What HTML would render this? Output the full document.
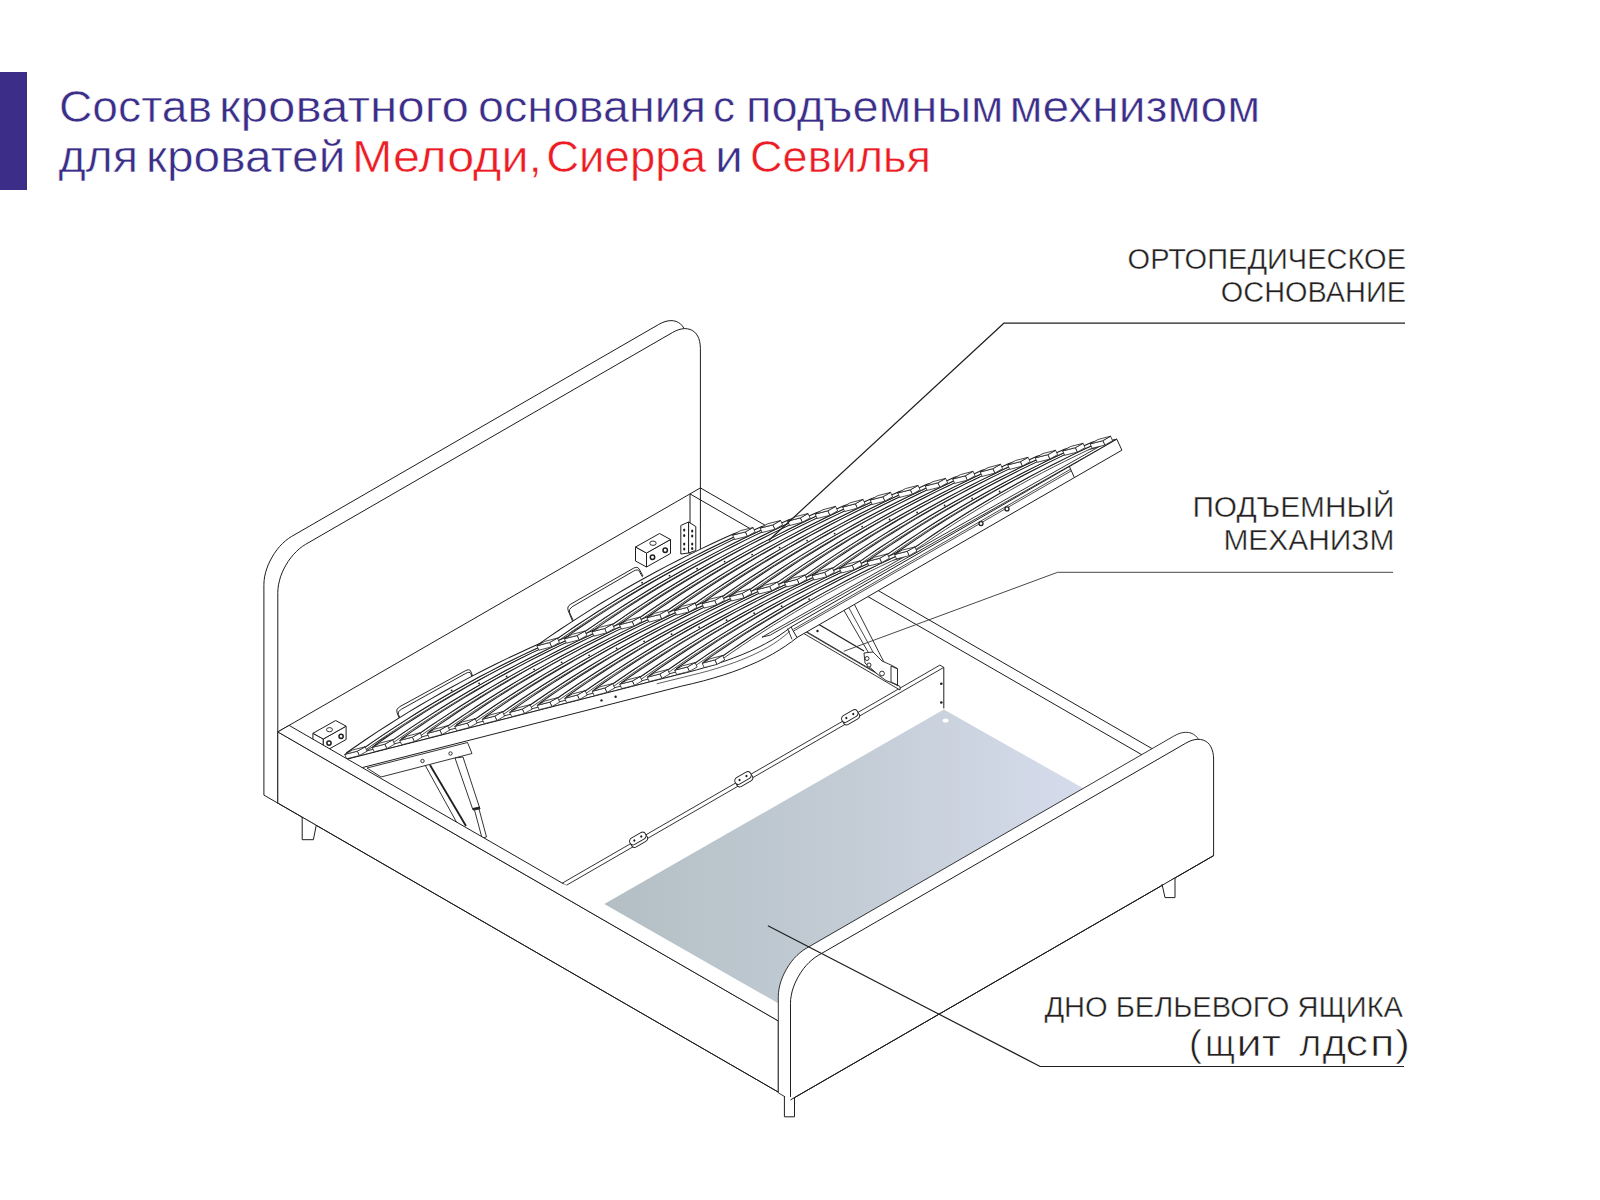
<!DOCTYPE html>
<html><head><meta charset="utf-8">
<style>
html,body{margin:0;padding:0;background:#fff;}
body{width:1600px;height:1200px;position:relative;overflow:hidden;font-family:"Liberation Sans",sans-serif;}
#bar{position:absolute;left:0;top:72px;width:27px;height:118px;background:#3c2d89;}
svg{position:absolute;left:0;top:0;}
</style></head><body>
<div id="bar"></div>
<svg width="1600" height="1200" viewBox="0 0 1600 1200">
<polygon points="263.9,795.1 263.9,584.4 264.1,580.7 264.6,576.9 265.5,572.9 266.7,568.9 268.2,564.9 270.0,561.0 272.1,557.1 274.4,553.4 276.9,549.8 279.6,546.5 282.5,543.5 285.5,540.8 288.6,538.4 291.7,536.4 658.8,324.4 661.9,322.8 665.0,321.6 668.0,320.9 670.9,320.6 673.6,320.8 676.1,321.4 678.4,322.5 680.5,323.9 682.3,325.8 683.8,328.1 685.0,330.7 685.9,333.7 686.4,336.9 686.6,340.4 686.6,551.1 700.4,559.1 277.8,803.1" fill="#fff" stroke="#1e1e1e" stroke-width="1.0" stroke-linejoin="round" />
<polygon points="277.8,803.1 277.8,592.4 278.0,588.7 278.5,584.9 279.4,580.9 280.5,576.9 282.0,572.9 283.8,569.0 285.9,565.1 288.2,561.4 290.8,557.8 293.5,554.5 296.4,551.5 299.3,548.8 302.4,546.4 305.5,544.4 672.7,332.4 675.8,330.8 678.9,329.6 681.8,328.9 684.7,328.6 687.4,328.8 690.0,329.4 692.3,330.5 694.4,331.9 696.2,333.8 697.7,336.1 698.9,338.7 699.7,341.7 700.2,344.9 700.4,348.4 700.4,559.1" fill="#fff" stroke="#1e1e1e" stroke-width="1.0" stroke-linejoin="round" />
<line x1="277.8" y1="731.9" x2="700.4" y2="487.9" stroke="#1e1e1e" stroke-width="1.0" />
<line x1="700.4" y1="487.9" x2="1201.0" y2="776.9" stroke="#1e1e1e" stroke-width="1.0" />
<line x1="690.0" y1="493.9" x2="1190.6" y2="782.9" stroke="#1e1e1e" stroke-width="1.0" />
<line x1="690.0" y1="493.9" x2="690.0" y2="553.9" stroke="#1e1e1e" stroke-width="1.0" />
<polygon points="680.8,525.5 688.6,522.0 688.6,553.0 680.8,554.0" fill="#fff" stroke="#1e1e1e" stroke-width="1.0" stroke-linejoin="round" />
<polygon points="688.6,522.0 695.8,526.5 695.8,550.5 688.6,553.0" fill="#fff" stroke="#1e1e1e" stroke-width="1.0" stroke-linejoin="round" />
<ellipse cx="684.2" cy="530" rx="1.1" ry="1.6" fill="#1e1e1e"/>
<ellipse cx="684.2" cy="535.5" rx="1.1" ry="1.6" fill="#1e1e1e"/>
<ellipse cx="684.2" cy="544" rx="1.1" ry="1.6" fill="#1e1e1e"/>
<ellipse cx="684.2" cy="549" rx="1.1" ry="1.6" fill="#1e1e1e"/>
<ellipse cx="692.2" cy="531" rx="1.1" ry="1.6" fill="#1e1e1e"/>
<ellipse cx="692.2" cy="536" rx="1.1" ry="1.6" fill="#1e1e1e"/>
<ellipse cx="692.2" cy="544" rx="1.1" ry="1.6" fill="#1e1e1e"/>
<ellipse cx="692.2" cy="548.5" rx="1.1" ry="1.6" fill="#1e1e1e"/>
<polygon points="635.5,547.0 646.5,553.0 646.5,567.0 635.5,561.0" fill="#fff" stroke="#1e1e1e" stroke-width="1.0" stroke-linejoin="round" />
<polygon points="646.5,553.0 670.5,539.5 670.5,553.5 646.5,567.0" fill="#fff" stroke="#1e1e1e" stroke-width="1.0" stroke-linejoin="round" />
<polygon points="635.5,547.0 659.5,533.5 670.5,539.5 646.5,553.0" fill="#fff" stroke="#1e1e1e" stroke-width="1.0" stroke-linejoin="round" />
<ellipse cx="653.0" cy="543.2" rx="3.2" ry="2.2" fill="#fff" stroke="#1e1e1e" stroke-width="0.9"/>
<circle cx="652.5" cy="557.3" r="2.2" fill="#fff" stroke="#1e1e1e" stroke-width="1.5"/>
<circle cx="665.2" cy="550.2" r="2.2" fill="#fff" stroke="#1e1e1e" stroke-width="1.5"/>
<polygon points="312.9,733.3 323.3,739.0 323.3,752.3 312.9,746.6" fill="#fff" stroke="#1e1e1e" stroke-width="1.0" stroke-linejoin="round" />
<polygon points="323.3,739.0 346.1,726.2 346.1,739.5 323.3,752.3" fill="#fff" stroke="#1e1e1e" stroke-width="1.0" stroke-linejoin="round" />
<polygon points="312.9,733.3 335.7,720.5 346.1,726.2 323.3,739.0" fill="#fff" stroke="#1e1e1e" stroke-width="1.0" stroke-linejoin="round" />
<ellipse cx="329.5" cy="729.7" rx="3.0" ry="2.1" fill="#fff" stroke="#1e1e1e" stroke-width="0.9"/>
<circle cx="329.0" cy="743.1" r="2.1" fill="#fff" stroke="#1e1e1e" stroke-width="1.5"/>
<circle cx="341.1" cy="736.3" r="2.1" fill="#fff" stroke="#1e1e1e" stroke-width="1.5"/>
<path d="M400.0,720.0 L396.9,712.3 Q395.5,709.0 399.9,706.6 L465.1,670.9 Q469.5,668.5 470.6,671.0 L473.0,677.0" fill="none" stroke="#1e1e1e" stroke-width="0.95"/>
<path d="M401.4,720.8 L398.3,714.4 Q396.9,711.7 401.3,709.3 L465.4,673.6 Q469.8,671.2 470.6,673.3 L472.6,678.1" fill="none" stroke="#1e1e1e" stroke-width="0.95"/>
<path d="M572.5,621.0 L568.3,610.9 Q566.5,606.5 570.8,604.1 L633.2,568.4 Q637.5,566.0 639.1,569.0 L643.0,576.0" fill="none" stroke="#1e1e1e" stroke-width="0.95"/>
<path d="M573.9,621.8 L569.7,613.0 Q567.9,609.2 572.1,606.8 L633.6,571.1 Q637.8,568.7 639.2,571.2 L642.6,577.1" fill="none" stroke="#1e1e1e" stroke-width="0.95"/>
<defs><linearGradient id="bg" x1="600" y1="0" x2="1090" y2="0" gradientUnits="userSpaceOnUse"><stop offset="0" stop-color="#b2bec4"/><stop offset="0.5" stop-color="#c3ccd5"/><stop offset="1" stop-color="#d6dcec"/></linearGradient></defs>
<polygon points="943.8,709.6 1090.0,792.0 900.0,900.0 790.0,1010.0 604.3,904.0" fill="url(#bg)" stroke="none" stroke-linejoin="round" />
<ellipse cx="945.6" cy="720.6" rx="3" ry="2" fill="#fff"/>
<polygon points="566.2,885.4 943.8,667.4 939.9,665.1 562.3,883.1" fill="#fff" stroke="#1e1e1e" stroke-width="0.9" stroke-linejoin="round" />
<line x1="943.8" y1="667.4" x2="943.8" y2="708.4" stroke="#1e1e1e" stroke-width="1.0" />
<circle cx="941.3" cy="683.8" r="1.3" fill="#1e1e1e"/>
<circle cx="941.3" cy="702.5" r="1.3" fill="#1e1e1e"/>
<g transform="translate(637.8,838.5) rotate(-30)"><rect x="-9" y="-0.5" width="18" height="7" rx="3.5" fill="#fff" stroke="#1e1e1e" stroke-width="0.9"/><rect x="-9" y="-3.5" width="18" height="7" rx="3.5" fill="#fff" stroke="#1e1e1e" stroke-width="0.9"/><circle cx="-4" cy="0" r="1.1" fill="#1e1e1e"/><circle cx="4" cy="0" r="1.1" fill="#1e1e1e"/></g>
<g transform="translate(743.0,778.0) rotate(-30)"><rect x="-9" y="-0.5" width="18" height="7" rx="3.5" fill="#fff" stroke="#1e1e1e" stroke-width="0.9"/><rect x="-9" y="-3.5" width="18" height="7" rx="3.5" fill="#fff" stroke="#1e1e1e" stroke-width="0.9"/><circle cx="-4" cy="0" r="1.1" fill="#1e1e1e"/><circle cx="4" cy="0" r="1.1" fill="#1e1e1e"/></g>
<g transform="translate(849.8,716.0) rotate(-30)"><rect x="-9" y="-0.5" width="18" height="7" rx="3.5" fill="#fff" stroke="#1e1e1e" stroke-width="0.9"/><rect x="-9" y="-3.5" width="18" height="7" rx="3.5" fill="#fff" stroke="#1e1e1e" stroke-width="0.9"/><circle cx="-4" cy="0" r="1.1" fill="#1e1e1e"/><circle cx="4" cy="0" r="1.1" fill="#1e1e1e"/></g>
<polygon points="782.5,617.5 900.0,686.5 900.0,690.0 782.5,621.0" fill="#fff" stroke="#1e1e1e" stroke-width="0.9" stroke-linejoin="round" />
<line x1="806.0" y1="632.0" x2="898.0" y2="686.0" stroke="#1e1e1e" stroke-width="0.8" />
<polygon points="831.0,588.0 846.0,588.0 889.0,672.0 882.0,676.0" fill="#fff" stroke="#1e1e1e" stroke-width="0.9" stroke-linejoin="round" />
<line x1="838.0" y1="588.0" x2="885.0" y2="674.0" stroke="#1e1e1e" stroke-width="0.8" />
<line x1="796.0" y1="611.0" x2="864.0" y2="651.0" stroke="#1e1e1e" stroke-width="1.3" />
<polygon points="864.0,653.0 873.0,652.0 882.0,661.0 891.0,665.0 897.5,668.5 897.5,685.0 886.0,680.5 879.0,675.5 865.0,663.0" fill="#fff" stroke="#1e1e1e" stroke-width="0.9" stroke-linejoin="round" />
<polygon points="891.0,666.0 897.5,669.0 897.5,685.0 891.0,682.0" fill="#fff" stroke="#1e1e1e" stroke-width="0.9" stroke-linejoin="round" />
<circle cx="867.0" cy="658.5" r="2.0" fill="#fff" stroke="#1e1e1e" stroke-width="0.9"/>
<circle cx="869.0" cy="665.0" r="2.0" fill="#fff" stroke="#1e1e1e" stroke-width="0.9"/>
<circle cx="882.0" cy="673.5" r="2.4" fill="#fff" stroke="#1e1e1e" stroke-width="0.9"/>
<line x1="782.5" y1="618.5" x2="800.0" y2="628.0" stroke="#1e1e1e" stroke-width="1.0" />
<circle cx="817.5" cy="631.0" r="1.2" fill="#1e1e1e"/>
<polygon points="346.1,759.4 351.2,770.4 681.3,686.2 692.6,683.6 703.3,680.9 713.6,678.0 723.4,675.0 732.7,671.9 741.5,668.6 749.9,665.1 757.9,661.6 765.4,657.9 772.5,654.1 779.2,650.1 785.5,646.0 791.5,641.8 797.0,637.5 1121.9,450.2 1116.8,439.2 744.5,534.2" fill="#fff" stroke="none" stroke-linejoin="round" />
<polygon points="346.1,759.4 354.5,757.2 752.9,532.1 744.5,534.2" fill="#fff" stroke="#1e1e1e" stroke-width="0.9" stroke-linejoin="round" />
<polygon points="538.4,650.7 910.7,555.7 921.1,549.8 548.7,644.9" fill="#fff" stroke="#1e1e1e" stroke-width="0.9" stroke-linejoin="round" />
<polygon points="734.1,540.1 1106.4,445.1 1116.8,439.2 744.5,534.2" fill="#fff" stroke="#1e1e1e" stroke-width="0.9" stroke-linejoin="round" />
<polygon points="762.0,637.2 770.4,635.0 1116.8,439.2 1108.4,441.4" fill="#fff" stroke="#1e1e1e" stroke-width="0.9" stroke-linejoin="round" />
<polygon points="346.1,759.4 676.3,675.1 686.7,669.3 356.5,753.5" fill="#fff" stroke="#1e1e1e" stroke-width="0.9" stroke-linejoin="round" />
<polygon points="346.1,759.4 676.3,675.1 686.6,672.6 696.6,669.9 706.3,667.1 715.8,664.2 724.9,661.1 733.7,657.9 742.2,654.6 750.3,651.1 758.0,647.5 765.4,643.7 772.4,639.8 779.0,635.7 785.2,631.4 791.0,627.0 1116.8,439.2 1121.9,450.2 797.0,637.5 791.5,641.8 785.5,646.0 779.2,650.1 772.5,654.1 765.4,657.9 757.9,661.6 749.9,665.1 741.5,668.6 732.7,671.9 723.4,675.0 713.6,678.0 703.3,680.9 692.6,683.6 681.3,686.2 351.2,770.4" fill="#fff" stroke="#1e1e1e" stroke-width="1.0" stroke-linejoin="round" />
<line x1="793.5" y1="629.2" x2="1070.6" y2="469.2" stroke="#1e1e1e" stroke-width="0.8" />
<line x1="794.0" y1="630.8" x2="1071.3" y2="470.8" stroke="#1e1e1e" stroke-width="0.8" />
<line x1="791.0" y1="627.0" x2="797.0" y2="637.5" stroke="#1e1e1e" stroke-width="1.0" />
<line x1="787.5" y1="628.5" x2="792.0" y2="639.3" stroke="#1e1e1e" stroke-width="0.9" />
<line x1="1069.2" y1="466.1" x2="1074.2" y2="477.2" stroke="#1e1e1e" stroke-width="1.0" />
<circle cx="981.0" cy="523.6" r="2.0" fill="#fff" stroke="#1e1e1e" stroke-width="1.3"/>
<circle cx="1007.0" cy="508.9" r="2.0" fill="#fff" stroke="#1e1e1e" stroke-width="1.3"/>
<polyline points="656.7,683.8 688.8,675.9 699.3,673.3 709.4,670.6 719.0,667.7 728.2,664.7 736.9,661.6 745.2,658.3 753.0,654.9 760.4,651.3 767.3,647.6 773.7,643.7 779.6,639.6 785.0,635.4 790.0,631.0" fill="none" stroke="#1e1e1e" stroke-width="0.7" stroke-linejoin="round" />
<polygon points="363.3,748.5 373.5,741.4 383.8,734.4 394.1,727.6 404.5,720.9 414.9,714.3 425.4,707.8 435.9,701.5 446.5,695.3 457.2,689.2 467.9,683.2 478.6,677.3 489.5,671.6 500.3,666.0 511.3,660.5 522.3,655.1 533.3,649.9 544.4,644.8 555.6,639.8 556.6,642.0 545.4,647.0 534.3,652.1 523.3,657.4 512.3,662.7 501.4,668.2 490.5,673.8 479.7,679.5 468.9,685.4 458.2,691.4 447.5,697.5 436.9,703.7 426.4,710.0 415.9,716.5 405.5,723.1 395.1,729.8 384.8,736.6 374.5,743.6 364.3,750.7" fill="#fff" stroke="#222" stroke-width="0.8" stroke-linejoin="round" />
<polygon points="346.5,752.8 356.7,745.7 366.9,738.7 377.2,731.9 387.6,725.2 398.0,718.6 408.5,712.1 419.1,705.8 429.7,699.6 440.3,693.5 451.0,687.5 461.8,681.6 472.6,675.9 483.5,670.3 494.4,664.8 505.4,659.4 516.4,654.2 527.6,649.1 538.7,644.1 555.6,639.8 544.4,644.8 533.3,649.9 522.3,655.1 511.3,660.5 500.3,666.0 489.5,671.6 478.6,677.3 467.9,683.2 457.2,689.2 446.5,695.3 435.9,701.5 425.4,707.8 414.9,714.3 404.5,720.9 394.1,727.6 383.8,734.4 373.5,741.4 363.3,748.5" fill="#fff" stroke="#1e1e1e" stroke-width="1.05" stroke-linejoin="round" />
<polygon points="555.6,639.8 566.0,632.6 576.4,625.5 586.9,618.6 597.5,611.8 608.1,605.1 618.8,598.5 629.5,592.1 640.3,585.7 651.1,579.5 662.1,573.4 673.0,567.5 684.0,561.6 695.1,555.9 706.2,550.3 717.4,544.8 728.6,539.5 739.9,534.3 751.3,529.2 752.3,531.4 740.9,536.5 729.7,541.7 718.4,547.1 707.2,552.5 696.1,558.1 685.0,563.8 674.0,569.7 663.1,575.6 652.2,581.7 641.3,587.9 630.5,594.3 619.8,600.7 609.1,607.3 598.5,614.0 587.9,620.8 577.4,627.7 567.0,634.8 556.6,642.0" fill="#fff" stroke="#222" stroke-width="0.8" stroke-linejoin="round" />
<polygon points="538.7,644.1 549.1,636.9 559.6,629.8 570.1,622.9 580.6,616.1 591.2,609.4 601.9,602.8 612.7,596.4 623.4,590.0 634.3,583.8 645.2,577.7 656.1,571.8 667.2,565.9 678.2,560.2 689.4,554.6 700.5,549.1 711.8,543.8 723.1,538.6 734.4,533.5 751.3,529.2 739.9,534.3 728.6,539.5 717.4,544.8 706.2,550.3 695.1,555.9 684.0,561.6 673.0,567.5 662.1,573.4 651.1,579.5 640.3,585.7 629.5,592.1 618.8,598.5 608.1,605.1 597.5,611.8 586.9,618.6 576.4,625.5 566.0,632.6 555.6,639.8" fill="#fff" stroke="#1e1e1e" stroke-width="1.05" stroke-linejoin="round" />
<polygon points="390.8,741.4 401.0,734.4 411.3,727.4 421.6,720.6 432.0,713.9 442.4,707.3 452.9,700.8 463.4,694.5 474.0,688.2 484.7,682.1 495.4,676.2 506.1,670.3 517.0,664.6 527.8,659.0 538.8,653.5 549.8,648.1 560.8,642.9 571.9,637.8 583.1,632.8 584.1,635.0 572.9,640.0 561.8,645.1 550.8,650.3 539.8,655.7 528.9,661.2 518.0,666.8 507.2,672.5 496.4,678.4 485.7,684.4 475.0,690.4 464.4,696.7 453.9,703.0 443.4,709.5 433.0,716.1 422.6,722.8 412.3,729.6 402.0,736.6 391.8,743.7" fill="#fff" stroke="#222" stroke-width="0.8" stroke-linejoin="round" />
<polygon points="374.0,745.7 384.2,738.7 394.4,731.7 404.7,724.9 415.1,718.2 425.5,711.6 436.0,705.1 446.6,698.8 457.2,692.5 467.8,686.4 478.5,680.5 489.3,674.6 500.1,668.9 511.0,663.3 521.9,657.8 532.9,652.4 544.0,647.2 555.1,642.1 566.2,637.1 583.1,632.8 571.9,637.8 560.8,642.9 549.8,648.1 538.8,653.5 527.8,659.0 517.0,664.6 506.1,670.3 495.4,676.2 484.7,682.1 474.0,688.2 463.4,694.5 452.9,700.8 442.4,707.3 432.0,713.9 421.6,720.6 411.3,727.4 401.0,734.4 390.8,741.4" fill="#fff" stroke="#1e1e1e" stroke-width="1.05" stroke-linejoin="round" />
<polygon points="583.1,632.8 593.5,625.6 603.9,618.5 614.4,611.6 625.0,604.8 635.6,598.1 646.3,591.5 657.0,585.0 667.8,578.7 678.7,572.5 689.6,566.4 700.5,560.4 711.5,554.6 722.6,548.9 733.7,543.3 744.9,537.8 756.1,532.5 767.4,527.3 778.8,522.1 779.8,524.4 768.5,529.5 757.2,534.7 745.9,540.0 734.7,545.5 723.6,551.1 712.5,556.8 701.5,562.7 690.6,568.6 679.7,574.7 668.8,580.9 658.0,587.2 647.3,593.7 636.6,600.3 626.0,607.0 615.4,613.8 604.9,620.7 594.5,627.8 584.1,635.0" fill="#fff" stroke="#222" stroke-width="0.8" stroke-linejoin="round" />
<polygon points="566.2,637.1 576.6,629.9 587.1,622.8 597.6,615.9 608.1,609.1 618.8,602.4 629.4,595.8 640.2,589.3 650.9,583.0 661.8,576.8 672.7,570.7 683.7,564.8 694.7,558.9 705.7,553.2 716.9,547.6 728.0,542.1 739.3,536.8 750.6,531.6 761.9,526.5 778.8,522.1 767.4,527.3 756.1,532.5 744.9,537.8 733.7,543.3 722.6,548.9 711.5,554.6 700.5,560.4 689.6,566.4 678.7,572.5 667.8,578.7 657.0,585.0 646.3,591.5 635.6,598.1 625.0,604.8 614.4,611.6 603.9,618.5 593.5,625.6 583.1,632.8" fill="#fff" stroke="#1e1e1e" stroke-width="1.05" stroke-linejoin="round" />
<polygon points="418.3,734.4 428.5,727.3 438.8,720.4 449.1,713.6 459.5,706.8 469.9,700.3 480.4,693.8 490.9,687.4 501.5,681.2 512.2,675.1 522.9,669.1 533.6,663.3 544.5,657.6 555.3,652.0 566.3,646.5 577.3,641.1 588.3,635.9 599.4,630.7 610.6,625.8 611.6,628.0 600.4,633.0 589.3,638.1 578.3,643.3 567.3,648.7 556.4,654.2 545.5,659.8 534.7,665.5 523.9,671.4 513.2,677.3 502.5,683.4 491.9,689.7 481.4,696.0 470.9,702.5 460.5,709.0 450.1,715.8 439.8,722.6 429.5,729.6 419.3,736.6" fill="#fff" stroke="#222" stroke-width="0.8" stroke-linejoin="round" />
<polygon points="401.5,738.7 411.7,731.6 421.9,724.7 432.2,717.9 442.6,711.1 453.0,704.6 463.5,698.1 474.1,691.7 484.7,685.5 495.3,679.4 506.0,673.5 516.8,667.6 527.6,661.9 538.5,656.3 549.4,650.8 560.4,645.4 571.5,640.2 582.6,635.1 593.7,630.1 610.6,625.8 599.4,630.7 588.3,635.9 577.3,641.1 566.3,646.5 555.3,652.0 544.5,657.6 533.6,663.3 522.9,669.1 512.2,675.1 501.5,681.2 490.9,687.4 480.4,693.8 469.9,700.3 459.5,706.8 449.1,713.6 438.8,720.4 428.5,727.3 418.3,734.4" fill="#fff" stroke="#1e1e1e" stroke-width="1.05" stroke-linejoin="round" />
<polygon points="610.6,625.8 621.0,618.6 631.4,611.5 641.9,604.6 652.5,597.7 663.1,591.0 673.8,584.5 684.5,578.0 695.3,571.7 706.2,565.5 717.1,559.4 728.0,553.4 739.0,547.6 750.1,541.9 761.2,536.3 772.4,530.8 783.6,525.5 794.9,520.2 806.3,515.1 807.3,517.3 796.0,522.4 784.7,527.7 773.4,533.0 762.2,538.5 751.1,544.1 740.0,549.8 729.0,555.6 718.1,561.6 707.2,567.7 696.3,573.9 685.5,580.2 674.8,586.7 664.1,593.2 653.5,599.9 642.9,606.8 632.4,613.7 622.0,620.8 611.6,628.0" fill="#fff" stroke="#222" stroke-width="0.8" stroke-linejoin="round" />
<polygon points="593.7,630.1 604.1,622.9 614.6,615.8 625.1,608.9 635.6,602.0 646.3,595.3 656.9,588.8 667.7,582.3 678.5,576.0 689.3,569.8 700.2,563.7 711.2,557.7 722.2,551.9 733.2,546.2 744.4,540.6 755.5,535.1 766.8,529.8 778.1,524.5 789.4,519.4 806.3,515.1 794.9,520.2 783.6,525.5 772.4,530.8 761.2,536.3 750.1,541.9 739.0,547.6 728.0,553.4 717.1,559.4 706.2,565.5 695.3,571.7 684.5,578.0 673.8,584.5 663.1,591.0 652.5,597.7 641.9,604.6 631.4,611.5 621.0,618.6 610.6,625.8" fill="#fff" stroke="#1e1e1e" stroke-width="1.05" stroke-linejoin="round" />
<polygon points="445.8,727.4 456.0,720.3 466.3,713.4 476.6,706.5 487.0,699.8 497.4,693.2 507.9,686.8 518.4,680.4 529.0,674.2 539.7,668.1 550.4,662.1 561.1,656.3 572.0,650.5 582.8,644.9 593.8,639.5 604.8,634.1 615.8,628.8 626.9,623.7 638.1,618.7 639.1,620.9 627.9,625.9 616.8,631.1 605.8,636.3 594.8,641.7 583.9,647.1 573.0,652.8 562.2,658.5 551.4,664.3 540.7,670.3 530.0,676.4 519.4,682.6 508.9,689.0 498.4,695.4 488.0,702.0 477.6,708.7 467.3,715.6 457.0,722.5 446.8,729.6" fill="#fff" stroke="#222" stroke-width="0.8" stroke-linejoin="round" />
<polygon points="429.0,731.7 439.2,724.6 449.4,717.7 459.7,710.8 470.1,704.1 480.5,697.5 491.0,691.1 501.6,684.7 512.2,678.5 522.8,672.4 533.5,666.4 544.3,660.6 555.1,654.8 566.0,649.2 576.9,643.8 587.9,638.4 599.0,633.2 610.1,628.0 621.2,623.0 638.1,618.7 626.9,623.7 615.8,628.8 604.8,634.1 593.8,639.5 582.8,644.9 572.0,650.5 561.1,656.3 550.4,662.1 539.7,668.1 529.0,674.2 518.4,680.4 507.9,686.8 497.4,693.2 487.0,699.8 476.6,706.5 466.3,713.4 456.0,720.3 445.8,727.4" fill="#fff" stroke="#1e1e1e" stroke-width="1.05" stroke-linejoin="round" />
<polygon points="638.1,618.7 648.5,611.5 658.9,604.5 669.4,597.5 680.0,590.7 690.6,584.0 701.3,577.4 712.0,571.0 722.8,564.7 733.7,558.5 744.6,552.4 755.5,546.4 766.5,540.6 777.6,534.9 788.7,529.3 799.9,523.8 811.1,518.4 822.4,513.2 833.8,508.1 834.8,510.3 823.5,515.4 812.2,520.6 800.9,526.0 789.7,531.5 778.6,537.1 767.5,542.8 756.5,548.6 745.6,554.6 734.7,560.7 723.8,566.9 713.0,573.2 702.3,579.7 691.6,586.2 681.0,592.9 670.4,599.7 659.9,606.7 649.5,613.8 639.1,620.9" fill="#fff" stroke="#222" stroke-width="0.8" stroke-linejoin="round" />
<polygon points="621.2,623.0 631.6,615.9 642.1,608.8 652.6,601.8 663.1,595.0 673.8,588.3 684.4,581.7 695.2,575.3 706.0,569.0 716.8,562.8 727.7,556.7 738.7,550.7 749.7,544.9 760.7,539.2 771.9,533.6 783.1,528.1 794.3,522.7 805.6,517.5 816.9,512.4 833.8,508.1 822.4,513.2 811.1,518.4 799.9,523.8 788.7,529.3 777.6,534.9 766.5,540.6 755.5,546.4 744.6,552.4 733.7,558.5 722.8,564.7 712.0,571.0 701.3,577.4 690.6,584.0 680.0,590.7 669.4,597.5 658.9,604.5 648.5,611.5 638.1,618.7" fill="#fff" stroke="#1e1e1e" stroke-width="1.05" stroke-linejoin="round" />
<polygon points="473.3,720.4 483.5,713.3 493.8,706.3 504.1,699.5 514.5,692.8 524.9,686.2 535.4,679.7 545.9,673.4 556.5,667.2 567.2,661.1 577.9,655.1 588.7,649.3 599.5,643.5 610.4,637.9 621.3,632.4 632.3,627.1 643.3,621.8 654.4,616.7 665.6,611.7 666.6,613.9 655.4,618.9 644.3,624.0 633.3,629.3 622.3,634.6 611.4,640.1 600.5,645.7 589.7,651.5 578.9,657.3 568.2,663.3 557.5,669.4 546.9,675.6 536.4,682.0 525.9,688.4 515.5,695.0 505.1,701.7 494.8,708.6 484.5,715.5 474.3,722.6" fill="#fff" stroke="#222" stroke-width="0.8" stroke-linejoin="round" />
<polygon points="456.5,724.7 466.7,717.6 476.9,710.7 487.2,703.8 497.6,697.1 508.0,690.5 518.5,684.1 529.1,677.7 539.7,671.5 550.3,665.4 561.0,659.4 571.8,653.6 582.6,647.8 593.5,642.2 604.4,636.7 615.4,631.4 626.5,626.1 637.6,621.0 648.7,616.0 665.6,611.7 654.4,616.7 643.3,621.8 632.3,627.1 621.3,632.4 610.4,637.9 599.5,643.5 588.7,649.3 577.9,655.1 567.2,661.1 556.5,667.2 545.9,673.4 535.4,679.7 524.9,686.2 514.5,692.8 504.1,699.5 493.8,706.3 483.5,713.3 473.3,720.4" fill="#fff" stroke="#1e1e1e" stroke-width="1.05" stroke-linejoin="round" />
<polygon points="665.6,611.7 676.0,604.5 686.4,597.5 696.9,590.5 707.5,583.7 718.1,577.0 728.8,570.4 739.5,564.0 750.3,557.6 761.2,551.4 772.1,545.4 783.0,539.4 794.0,533.6 805.1,527.8 816.2,522.2 827.4,516.8 838.7,511.4 849.9,506.2 861.3,501.1 862.3,503.3 851.0,508.4 839.7,513.6 828.4,519.0 817.2,524.4 806.1,530.0 795.0,535.8 784.0,541.6 773.1,547.6 762.2,553.6 751.3,559.9 740.5,566.2 729.8,572.6 719.1,579.2 708.5,585.9 697.9,592.7 687.4,599.7 677.0,606.7 666.6,613.9" fill="#fff" stroke="#222" stroke-width="0.8" stroke-linejoin="round" />
<polygon points="648.7,616.0 659.1,608.8 669.6,601.8 680.1,594.8 690.6,588.0 701.3,581.3 711.9,574.7 722.7,568.3 733.5,561.9 744.3,555.7 755.2,549.7 766.2,543.7 777.2,537.9 788.2,532.1 799.4,526.5 810.6,521.1 821.8,515.7 833.1,510.5 844.4,505.4 861.3,501.1 849.9,506.2 838.7,511.4 827.4,516.8 816.2,522.2 805.1,527.8 794.0,533.6 783.0,539.4 772.1,545.4 761.2,551.4 750.3,557.6 739.5,564.0 728.8,570.4 718.1,577.0 707.5,583.7 696.9,590.5 686.4,597.5 676.0,604.5 665.6,611.7" fill="#fff" stroke="#1e1e1e" stroke-width="1.05" stroke-linejoin="round" />
<polygon points="500.8,713.4 511.0,706.3 521.3,699.3 531.6,692.5 542.0,685.8 552.4,679.2 562.9,672.7 573.4,666.4 584.0,660.2 594.7,654.1 605.4,648.1 616.2,642.2 627.0,636.5 637.9,630.9 648.8,625.4 659.8,620.0 670.8,614.8 681.9,609.7 693.1,604.7 694.1,606.9 682.9,611.9 671.8,617.0 660.8,622.3 649.8,627.6 638.9,633.1 628.0,638.7 617.2,644.4 606.4,650.3 595.7,656.3 585.0,662.4 574.4,668.6 563.9,674.9 553.4,681.4 543.0,688.0 532.6,694.7 522.3,701.5 512.0,708.5 501.8,715.6" fill="#fff" stroke="#222" stroke-width="0.8" stroke-linejoin="round" />
<polygon points="484.0,717.7 494.2,710.6 504.4,703.6 514.7,696.8 525.1,690.1 535.5,683.5 546.0,677.0 556.6,670.7 567.2,664.5 577.8,658.4 588.5,652.4 599.3,646.5 610.1,640.8 621.0,635.2 631.9,629.7 642.9,624.4 654.0,619.1 665.1,614.0 676.2,609.0 693.1,604.7 681.9,609.7 670.8,614.8 659.8,620.0 648.8,625.4 637.9,630.9 627.0,636.5 616.2,642.2 605.4,648.1 594.7,654.1 584.0,660.2 573.4,666.4 562.9,672.7 552.4,679.2 542.0,685.8 531.6,692.5 521.3,699.3 511.0,706.3 500.8,713.4" fill="#fff" stroke="#1e1e1e" stroke-width="1.05" stroke-linejoin="round" />
<polygon points="693.1,604.7 703.5,597.5 713.9,590.4 724.4,583.5 735.0,576.7 745.6,570.0 756.3,563.4 767.0,557.0 777.8,550.6 788.7,544.4 799.6,538.3 810.5,532.4 821.5,526.5 832.6,520.8 843.7,515.2 854.9,509.7 866.2,504.4 877.5,499.2 888.8,494.1 889.8,496.3 878.5,501.4 867.2,506.6 855.9,512.0 844.7,517.4 833.6,523.0 822.6,528.7 811.5,534.6 800.6,540.5 789.7,546.6 778.8,552.8 768.0,559.2 757.3,565.6 746.6,572.2 736.0,578.9 725.5,585.7 714.9,592.6 704.5,599.7 694.1,606.9" fill="#fff" stroke="#222" stroke-width="0.8" stroke-linejoin="round" />
<polygon points="676.2,609.0 686.6,601.8 697.1,594.7 707.6,587.8 718.1,581.0 728.8,574.3 739.4,567.7 750.2,561.3 761.0,554.9 771.8,548.7 782.7,542.6 793.7,536.7 804.7,530.8 815.7,525.1 826.9,519.5 838.1,514.1 849.3,508.7 860.6,503.5 871.9,498.4 888.8,494.1 877.5,499.2 866.2,504.4 854.9,509.7 843.7,515.2 832.6,520.8 821.5,526.5 810.5,532.4 799.6,538.3 788.7,544.4 777.8,550.6 767.0,557.0 756.3,563.4 745.6,570.0 735.0,576.7 724.4,583.5 713.9,590.4 703.5,597.5 693.1,604.7" fill="#fff" stroke="#1e1e1e" stroke-width="1.05" stroke-linejoin="round" />
<polygon points="528.3,706.3 538.5,699.3 548.8,692.3 559.1,685.5 569.5,678.8 579.9,672.2 590.4,665.7 600.9,659.4 611.5,653.1 622.2,647.0 632.9,641.1 643.7,635.2 654.5,629.5 665.4,623.9 676.3,618.4 687.3,613.0 698.3,607.8 709.4,602.7 720.6,597.7 721.6,599.9 710.4,604.9 699.3,610.0 688.3,615.2 677.3,620.6 666.4,626.1 655.5,631.7 644.7,637.4 633.9,643.3 623.2,649.3 612.5,655.4 601.9,661.6 591.4,667.9 580.9,674.4 570.5,681.0 560.1,687.7 549.8,694.5 539.6,701.5 529.4,708.6" fill="#fff" stroke="#222" stroke-width="0.8" stroke-linejoin="round" />
<polygon points="511.5,710.6 521.7,703.6 531.9,696.6 542.3,689.8 552.6,683.1 563.1,676.5 573.5,670.0 584.1,663.7 594.7,657.4 605.3,651.3 616.0,645.4 626.8,639.5 637.6,633.8 648.5,628.2 659.4,622.7 670.4,617.3 681.5,612.1 692.6,607.0 703.7,602.0 720.6,597.7 709.4,602.7 698.3,607.8 687.3,613.0 676.3,618.4 665.4,623.9 654.5,629.5 643.7,635.2 632.9,641.1 622.2,647.0 611.5,653.1 600.9,659.4 590.4,665.7 579.9,672.2 569.5,678.8 559.1,685.5 548.8,692.3 538.5,699.3 528.3,706.3" fill="#fff" stroke="#1e1e1e" stroke-width="1.05" stroke-linejoin="round" />
<polygon points="720.6,597.7 731.0,590.5 741.4,583.4 751.9,576.5 762.5,569.7 773.1,563.0 783.8,556.4 794.5,549.9 805.3,543.6 816.2,537.4 827.1,531.3 838.0,525.4 849.0,519.5 860.1,513.8 871.2,508.2 882.4,502.7 893.7,497.4 905.0,492.2 916.3,487.0 917.3,489.3 906.0,494.4 894.7,499.6 883.4,504.9 872.2,510.4 861.1,516.0 850.1,521.7 839.0,527.6 828.1,533.5 817.2,539.6 806.3,545.8 795.5,552.1 784.8,558.6 774.1,565.2 763.5,571.9 753.0,578.7 742.4,585.6 732.0,592.7 721.6,599.9" fill="#fff" stroke="#222" stroke-width="0.8" stroke-linejoin="round" />
<polygon points="703.7,602.0 714.1,594.8 724.6,587.7 735.1,580.8 745.6,574.0 756.3,567.3 766.9,560.7 777.7,554.2 788.5,547.9 799.3,541.7 810.2,535.6 821.2,529.7 832.2,523.8 843.2,518.1 854.4,512.5 865.6,507.0 876.8,501.7 888.1,496.5 899.4,491.4 916.3,487.0 905.0,492.2 893.7,497.4 882.4,502.7 871.2,508.2 860.1,513.8 849.0,519.5 838.0,525.4 827.1,531.3 816.2,537.4 805.3,543.6 794.5,549.9 783.8,556.4 773.1,563.0 762.5,569.7 751.9,576.5 741.4,583.4 731.0,590.5 720.6,597.7" fill="#fff" stroke="#1e1e1e" stroke-width="1.05" stroke-linejoin="round" />
<polygon points="555.8,699.3 566.0,692.2 576.3,685.3 586.6,678.5 597.0,671.7 607.4,665.2 617.9,658.7 628.4,652.3 639.0,646.1 649.7,640.0 660.4,634.0 671.2,628.2 682.0,622.5 692.9,616.9 703.8,611.4 714.8,606.0 725.8,600.8 736.9,595.7 748.1,590.7 749.1,592.9 737.9,597.9 726.8,603.0 715.8,608.2 704.8,613.6 693.9,619.1 683.0,624.7 672.2,630.4 661.4,636.3 650.7,642.2 640.0,648.3 629.5,654.6 618.9,660.9 608.4,667.4 598.0,674.0 587.6,680.7 577.3,687.5 567.1,694.5 556.9,701.5" fill="#fff" stroke="#222" stroke-width="0.8" stroke-linejoin="round" />
<polygon points="539.0,703.6 549.2,696.5 559.4,689.6 569.8,682.8 580.1,676.0 590.6,669.5 601.0,663.0 611.6,656.6 622.2,650.4 632.8,644.3 643.5,638.4 654.3,632.5 665.1,626.8 676.0,621.2 686.9,615.7 697.9,610.3 709.0,605.1 720.1,600.0 731.2,595.0 748.1,590.7 736.9,595.7 725.8,600.8 714.8,606.0 703.8,611.4 692.9,616.9 682.0,622.5 671.2,628.2 660.4,634.0 649.7,640.0 639.0,646.1 628.4,652.3 617.9,658.7 607.4,665.2 597.0,671.7 586.6,678.5 576.3,685.3 566.0,692.2 555.8,699.3" fill="#fff" stroke="#1e1e1e" stroke-width="1.05" stroke-linejoin="round" />
<polygon points="748.1,590.7 758.5,583.5 768.9,576.4 779.4,569.5 790.0,562.6 800.6,555.9 811.3,549.4 822.0,542.9 832.8,536.6 843.7,530.4 854.6,524.3 865.5,518.3 876.5,512.5 887.6,506.8 898.7,501.2 909.9,495.7 921.2,490.4 932.5,485.1 943.8,480.0 944.8,482.2 933.5,487.3 922.2,492.6 910.9,497.9 899.8,503.4 888.6,509.0 877.6,514.7 866.5,520.5 855.6,526.5 844.7,532.6 833.8,538.8 823.0,545.1 812.3,551.6 801.6,558.1 791.0,564.8 780.5,571.7 770.0,578.6 759.5,585.7 749.1,592.9" fill="#fff" stroke="#222" stroke-width="0.8" stroke-linejoin="round" />
<polygon points="731.2,595.0 741.6,587.8 752.1,580.7 762.6,573.8 773.1,566.9 783.8,560.2 794.4,553.7 805.2,547.2 816.0,540.9 826.8,534.7 837.7,528.6 848.7,522.6 859.7,516.8 870.8,511.1 881.9,505.5 893.1,500.0 904.3,494.7 915.6,489.4 926.9,484.3 943.8,480.0 932.5,485.1 921.2,490.4 909.9,495.7 898.7,501.2 887.6,506.8 876.5,512.5 865.5,518.3 854.6,524.3 843.7,530.4 832.8,536.6 822.0,542.9 811.3,549.4 800.6,555.9 790.0,562.6 779.4,569.5 768.9,576.4 758.5,583.5 748.1,590.7" fill="#fff" stroke="#1e1e1e" stroke-width="1.05" stroke-linejoin="round" />
<polygon points="583.3,692.3 593.5,685.2 603.8,678.3 614.1,671.4 624.5,664.7 634.9,658.1 645.4,651.7 655.9,645.3 666.5,639.1 677.2,633.0 687.9,627.0 698.7,621.2 709.5,615.4 720.4,609.8 731.3,604.4 742.3,599.0 753.3,593.7 764.4,588.6 775.6,583.6 776.6,585.8 765.4,590.8 754.3,596.0 743.3,601.2 732.3,606.6 721.4,612.0 710.5,617.7 699.7,623.4 688.9,629.2 678.2,635.2 667.5,641.3 657.0,647.5 646.4,653.9 635.9,660.3 625.5,666.9 615.1,673.6 604.8,680.5 594.6,687.4 584.4,694.5" fill="#fff" stroke="#222" stroke-width="0.8" stroke-linejoin="round" />
<polygon points="566.5,696.6 576.7,689.5 586.9,682.6 597.3,675.7 607.6,669.0 618.1,662.4 628.5,656.0 639.1,649.6 649.7,643.4 660.3,637.3 671.0,631.3 681.8,625.5 692.6,619.7 703.5,614.1 714.4,608.7 725.4,603.3 736.5,598.1 747.6,592.9 758.7,587.9 775.6,583.6 764.4,588.6 753.3,593.7 742.3,599.0 731.3,604.4 720.4,609.8 709.5,615.4 698.7,621.2 687.9,627.0 677.2,633.0 666.5,639.1 655.9,645.3 645.4,651.7 634.9,658.1 624.5,664.7 614.1,671.4 603.8,678.3 593.5,685.2 583.3,692.3" fill="#fff" stroke="#1e1e1e" stroke-width="1.05" stroke-linejoin="round" />
<polygon points="775.6,583.6 786.0,576.4 796.4,569.4 806.9,562.4 817.5,555.6 828.1,548.9 838.8,542.3 849.5,535.9 860.3,529.6 871.2,523.4 882.1,517.3 893.0,511.3 904.0,505.5 915.1,499.8 926.2,494.2 937.4,488.7 948.7,483.3 960.0,478.1 971.3,473.0 972.3,475.2 961.0,480.3 949.7,485.5 938.4,490.9 927.3,496.4 916.1,502.0 905.1,507.7 894.0,513.5 883.1,519.5 872.2,525.6 861.3,531.8 850.6,538.1 839.8,544.6 829.1,551.1 818.5,557.8 808.0,564.6 797.5,571.6 787.0,578.7 776.6,585.8" fill="#fff" stroke="#222" stroke-width="0.8" stroke-linejoin="round" />
<polygon points="758.7,587.9 769.1,580.8 779.6,573.7 790.1,566.7 800.7,559.9 811.3,553.2 821.9,546.7 832.7,540.2 843.5,533.9 854.3,527.7 865.2,521.6 876.2,515.6 887.2,509.8 898.3,504.1 909.4,498.5 920.6,493.0 931.8,487.6 943.1,482.4 954.5,477.3 971.3,473.0 960.0,478.1 948.7,483.3 937.4,488.7 926.2,494.2 915.1,499.8 904.0,505.5 893.0,511.3 882.1,517.3 871.2,523.4 860.3,529.6 849.5,535.9 838.8,542.3 828.1,548.9 817.5,555.6 806.9,562.4 796.4,569.4 786.0,576.4 775.6,583.6" fill="#fff" stroke="#1e1e1e" stroke-width="1.05" stroke-linejoin="round" />
<polygon points="610.8,685.3 621.0,678.2 631.3,671.3 641.6,664.4 652.0,657.7 662.4,651.1 672.9,644.6 683.4,638.3 694.0,632.1 704.7,626.0 715.4,620.0 726.2,614.2 737.0,608.4 747.9,602.8 758.8,597.3 769.8,592.0 780.8,586.7 791.9,581.6 803.1,576.6 804.1,578.8 793.0,583.8 781.8,588.9 770.8,594.2 759.8,599.5 748.9,605.0 738.0,610.6 727.2,616.4 716.4,622.2 705.7,628.2 695.1,634.3 684.5,640.5 673.9,646.9 663.4,653.3 653.0,659.9 642.6,666.6 632.3,673.5 622.1,680.4 611.9,687.5" fill="#fff" stroke="#222" stroke-width="0.8" stroke-linejoin="round" />
<polygon points="594.0,689.6 604.2,682.5 614.4,675.6 624.8,668.7 635.1,662.0 645.6,655.4 656.0,649.0 666.6,642.6 677.2,636.4 687.8,630.3 698.5,624.3 709.3,618.5 720.1,612.7 731.0,607.1 741.9,601.6 752.9,596.3 764.0,591.0 775.1,585.9 786.2,580.9 803.1,576.6 791.9,581.6 780.8,586.7 769.8,592.0 758.8,597.3 747.9,602.8 737.0,608.4 726.2,614.2 715.4,620.0 704.7,626.0 694.0,632.1 683.4,638.3 672.9,644.6 662.4,651.1 652.0,657.7 641.6,664.4 631.3,671.3 621.0,678.2 610.8,685.3" fill="#fff" stroke="#1e1e1e" stroke-width="1.05" stroke-linejoin="round" />
<polygon points="803.1,576.6 813.5,569.4 823.9,562.4 834.5,555.4 845.0,548.6 855.6,541.9 866.3,535.3 877.0,528.9 887.8,522.5 898.7,516.3 909.6,510.3 920.5,504.3 931.5,498.5 942.6,492.7 953.7,487.1 964.9,481.7 976.2,476.3 987.5,471.1 998.8,466.0 999.8,468.2 988.5,473.3 977.2,478.5 965.9,483.9 954.8,489.3 943.6,494.9 932.6,500.7 921.5,506.5 910.6,512.5 899.7,518.5 888.8,524.8 878.1,531.1 867.3,537.5 856.6,544.1 846.0,550.8 835.5,557.6 825.0,564.6 814.5,571.6 804.1,578.8" fill="#fff" stroke="#222" stroke-width="0.8" stroke-linejoin="round" />
<polygon points="786.2,580.9 796.6,573.7 807.1,566.7 817.6,559.7 828.2,552.9 838.8,546.2 849.4,539.6 860.2,533.2 871.0,526.8 881.8,520.6 892.7,514.6 903.7,508.6 914.7,502.8 925.8,497.0 936.9,491.4 948.1,486.0 959.3,480.6 970.6,475.4 982.0,470.3 998.8,466.0 987.5,471.1 976.2,476.3 964.9,481.7 953.7,487.1 942.6,492.7 931.5,498.5 920.5,504.3 909.6,510.3 898.7,516.3 887.8,522.5 877.0,528.9 866.3,535.3 855.6,541.9 845.0,548.6 834.5,555.4 823.9,562.4 813.5,569.4 803.1,576.6" fill="#fff" stroke="#1e1e1e" stroke-width="1.05" stroke-linejoin="round" />
<polygon points="638.3,678.3 648.6,671.2 658.8,664.2 669.1,657.4 679.5,650.7 689.9,644.1 700.4,637.6 710.9,631.3 721.5,625.1 732.2,619.0 742.9,613.0 753.7,607.1 764.5,601.4 775.4,595.8 786.3,590.3 797.3,585.0 808.3,579.7 819.4,574.6 830.6,569.6 831.6,571.8 820.5,576.8 809.4,581.9 798.3,587.2 787.3,592.5 776.4,598.0 765.5,603.6 754.7,609.3 743.9,615.2 733.2,621.2 722.6,627.3 712.0,633.5 701.4,639.8 690.9,646.3 680.5,652.9 670.1,659.6 659.8,666.4 649.6,673.4 639.4,680.5" fill="#fff" stroke="#222" stroke-width="0.8" stroke-linejoin="round" />
<polygon points="621.5,682.6 631.7,675.5 641.9,668.5 652.3,661.7 662.6,655.0 673.1,648.4 683.5,641.9 694.1,635.6 704.7,629.4 715.3,623.3 726.0,617.3 736.8,611.4 747.6,605.7 758.5,600.1 769.4,594.6 780.4,589.3 791.5,584.0 802.6,578.9 813.7,573.9 830.6,569.6 819.4,574.6 808.3,579.7 797.3,585.0 786.3,590.3 775.4,595.8 764.5,601.4 753.7,607.1 742.9,613.0 732.2,619.0 721.5,625.1 710.9,631.3 700.4,637.6 689.9,644.1 679.5,650.7 669.1,657.4 658.8,664.2 648.6,671.2 638.3,678.3" fill="#fff" stroke="#1e1e1e" stroke-width="1.05" stroke-linejoin="round" />
<polygon points="830.6,569.6 841.0,562.4 851.4,555.3 862.0,548.4 872.5,541.6 883.1,534.9 893.8,528.3 904.5,521.9 915.3,515.5 926.2,509.3 937.1,503.2 948.0,497.3 959.1,491.4 970.1,485.7 981.2,480.1 992.4,474.7 1003.7,469.3 1015.0,464.1 1026.3,459.0 1027.3,461.2 1016.0,466.3 1004.7,471.5 993.4,476.9 982.3,482.3 971.1,487.9 960.1,493.6 949.1,499.5 938.1,505.4 927.2,511.5 916.3,517.7 905.6,524.1 894.8,530.5 884.1,537.1 873.5,543.8 863.0,550.6 852.5,557.6 842.0,564.6 831.6,571.8" fill="#fff" stroke="#222" stroke-width="0.8" stroke-linejoin="round" />
<polygon points="813.7,573.9 824.1,566.7 834.6,559.6 845.1,552.7 855.7,545.9 866.3,539.2 877.0,532.6 887.7,526.2 898.5,519.8 909.3,513.6 920.2,507.5 931.2,501.6 942.2,495.7 953.3,490.0 964.4,484.4 975.6,479.0 986.8,473.6 998.1,468.4 1009.5,463.3 1026.3,459.0 1015.0,464.1 1003.7,469.3 992.4,474.7 981.2,480.1 970.1,485.7 959.1,491.4 948.0,497.3 937.1,503.2 926.2,509.3 915.3,515.5 904.5,521.9 893.8,528.3 883.1,534.9 872.5,541.6 862.0,548.4 851.4,555.3 841.0,562.4 830.6,569.6" fill="#fff" stroke="#1e1e1e" stroke-width="1.05" stroke-linejoin="round" />
<polygon points="665.9,671.2 676.1,664.2 686.3,657.2 696.6,650.4 707.0,643.7 717.4,637.1 727.9,630.6 738.4,624.3 749.0,618.0 759.7,611.9 770.4,606.0 781.2,600.1 792.0,594.4 802.9,588.8 813.8,583.3 824.8,577.9 835.8,572.7 846.9,567.6 858.1,562.6 859.1,564.8 848.0,569.8 836.9,574.9 825.8,580.1 814.8,585.5 803.9,591.0 793.0,596.6 782.2,602.3 771.4,608.2 760.7,614.2 750.1,620.3 739.5,626.5 728.9,632.8 718.4,639.3 708.0,645.9 697.6,652.6 687.3,659.4 677.1,666.4 666.9,673.5" fill="#fff" stroke="#222" stroke-width="0.8" stroke-linejoin="round" />
<polygon points="649.0,675.6 659.2,668.5 669.5,661.5 679.8,654.7 690.1,648.0 700.6,641.4 711.0,634.9 721.6,628.6 732.2,622.3 742.8,616.3 753.5,610.3 764.3,604.4 775.1,598.7 786.0,593.1 796.9,587.6 807.9,582.2 819.0,577.0 830.1,571.9 841.2,566.9 858.1,562.6 846.9,567.6 835.8,572.7 824.8,577.9 813.8,583.3 802.9,588.8 792.0,594.4 781.2,600.1 770.4,606.0 759.7,611.9 749.0,618.0 738.4,624.3 727.9,630.6 717.4,637.1 707.0,643.7 696.6,650.4 686.3,657.2 676.1,664.2 665.9,671.2" fill="#fff" stroke="#1e1e1e" stroke-width="1.05" stroke-linejoin="round" />
<polygon points="858.1,562.6 868.5,555.4 878.9,548.3 889.5,541.4 900.0,534.6 910.6,527.9 921.3,521.3 932.0,514.8 942.8,508.5 953.7,502.3 964.6,496.2 975.5,490.3 986.6,484.4 997.6,478.7 1008.8,473.1 1019.9,467.6 1031.2,462.3 1042.5,457.1 1053.8,452.0 1054.8,454.2 1043.5,459.3 1032.2,464.5 1020.9,469.8 1009.8,475.3 998.6,480.9 987.6,486.6 976.6,492.5 965.6,498.4 954.7,504.5 943.8,510.7 933.1,517.0 922.3,523.5 911.7,530.1 901.0,536.8 890.5,543.6 880.0,550.5 869.5,557.6 859.1,564.8" fill="#fff" stroke="#222" stroke-width="0.8" stroke-linejoin="round" />
<polygon points="841.2,566.9 851.6,559.7 862.1,552.6 872.6,545.7 883.2,538.9 893.8,532.2 904.5,525.6 915.2,519.1 926.0,512.8 936.8,506.6 947.7,500.5 958.7,494.6 969.7,488.7 980.8,483.0 991.9,477.4 1003.1,471.9 1014.3,466.6 1025.6,461.4 1037.0,456.3 1053.8,452.0 1042.5,457.1 1031.2,462.3 1019.9,467.6 1008.8,473.1 997.6,478.7 986.6,484.4 975.5,490.3 964.6,496.2 953.7,502.3 942.8,508.5 932.0,514.8 921.3,521.3 910.6,527.9 900.0,534.6 889.5,541.4 878.9,548.3 868.5,555.4 858.1,562.6" fill="#fff" stroke="#1e1e1e" stroke-width="1.05" stroke-linejoin="round" />
<polygon points="693.4,664.2 703.6,657.1 713.8,650.2 724.1,643.4 734.5,636.6 744.9,630.1 755.4,623.6 766.0,617.2 776.5,611.0 787.2,604.9 797.9,599.0 808.7,593.1 819.5,587.4 830.4,581.8 841.3,576.3 852.3,570.9 863.3,565.7 874.4,560.6 885.6,555.6 886.6,557.8 875.5,562.8 864.4,567.9 853.3,573.1 842.3,578.5 831.4,584.0 820.5,589.6 809.7,595.3 798.9,601.2 788.2,607.1 777.6,613.2 767.0,619.5 756.4,625.8 745.9,632.3 735.5,638.9 725.1,645.6 714.8,652.4 704.6,659.4 694.4,666.4" fill="#fff" stroke="#222" stroke-width="0.8" stroke-linejoin="round" />
<polygon points="676.5,668.5 686.7,661.5 697.0,654.5 707.3,647.7 717.6,640.9 728.1,634.4 738.6,627.9 749.1,621.6 759.7,615.3 770.3,609.2 781.0,603.3 791.8,597.4 802.6,591.7 813.5,586.1 824.4,580.6 835.4,575.2 846.5,570.0 857.6,564.9 868.7,559.9 885.6,555.6 874.4,560.6 863.3,565.7 852.3,570.9 841.3,576.3 830.4,581.8 819.5,587.4 808.7,593.1 797.9,599.0 787.2,604.9 776.5,611.0 766.0,617.2 755.4,623.6 744.9,630.1 734.5,636.6 724.1,643.4 713.8,650.2 703.6,657.1 693.4,664.2" fill="#fff" stroke="#1e1e1e" stroke-width="1.05" stroke-linejoin="round" />
<polygon points="885.6,555.6 896.0,548.4 906.5,541.3 917.0,534.4 927.5,527.5 938.1,520.8 948.8,514.3 959.6,507.8 970.3,501.5 981.2,495.3 992.1,489.2 1003.0,483.2 1014.1,477.4 1025.1,471.7 1036.3,466.1 1047.4,460.6 1058.7,455.3 1070.0,450.0 1081.3,444.9 1082.3,447.1 1071.0,452.2 1059.7,457.5 1048.4,462.8 1037.3,468.3 1026.1,473.9 1015.1,479.6 1004.1,485.4 993.1,491.4 982.2,497.5 971.4,503.7 960.6,510.0 949.8,516.5 939.2,523.1 928.5,529.7 918.0,536.6 907.5,543.5 897.0,550.6 886.6,557.8" fill="#fff" stroke="#222" stroke-width="0.8" stroke-linejoin="round" />
<polygon points="868.7,559.9 879.1,552.7 889.6,545.6 900.1,538.7 910.7,531.8 921.3,525.1 932.0,518.6 942.7,512.1 953.5,505.8 964.3,499.6 975.2,493.5 986.2,487.5 997.2,481.7 1008.3,476.0 1019.4,470.4 1030.6,464.9 1041.8,459.6 1053.1,454.3 1064.5,449.2 1081.3,444.9 1070.0,450.0 1058.7,455.3 1047.4,460.6 1036.3,466.1 1025.1,471.7 1014.1,477.4 1003.0,483.2 992.1,489.2 981.2,495.3 970.3,501.5 959.6,507.8 948.8,514.3 938.1,520.8 927.5,527.5 917.0,534.4 906.5,541.3 896.0,548.4 885.6,555.6" fill="#fff" stroke="#1e1e1e" stroke-width="1.05" stroke-linejoin="round" />
<polygon points="720.9,657.2 731.1,650.1 741.3,643.2 751.6,636.3 762.0,629.6 772.4,623.0 782.9,616.6 793.5,610.2 804.1,604.0 814.7,597.9 825.4,591.9 836.2,586.1 847.0,580.3 857.9,574.7 868.8,569.3 879.8,563.9 890.8,558.7 901.9,553.5 913.1,548.5 914.1,550.7 903.0,555.7 891.9,560.9 880.8,566.1 869.8,571.5 858.9,576.9 848.0,582.6 837.2,588.3 826.4,594.1 815.7,600.1 805.1,606.2 794.5,612.4 783.9,618.8 773.4,625.2 763.0,631.8 752.6,638.5 742.3,645.4 732.1,652.3 721.9,659.4" fill="#fff" stroke="#222" stroke-width="0.8" stroke-linejoin="round" />
<polygon points="704.0,661.5 714.2,654.4 724.5,647.5 734.8,640.6 745.1,633.9 755.6,627.3 766.1,620.9 776.6,614.5 787.2,608.3 797.8,602.2 808.6,596.2 819.3,590.4 830.1,584.7 841.0,579.0 852.0,573.6 862.9,568.2 874.0,563.0 885.1,557.8 896.2,552.8 913.1,548.5 901.9,553.5 890.8,558.7 879.8,563.9 868.8,569.3 857.9,574.7 847.0,580.3 836.2,586.1 825.4,591.9 814.7,597.9 804.1,604.0 793.5,610.2 782.9,616.6 772.4,623.0 762.0,629.6 751.6,636.3 741.3,643.2 731.1,650.1 720.9,657.2" fill="#fff" stroke="#1e1e1e" stroke-width="1.05" stroke-linejoin="round" />
<polygon points="913.1,548.5 923.5,541.4 934.0,534.3 944.5,527.3 955.0,520.5 965.6,513.8 976.3,507.2 987.1,500.8 997.8,494.5 1008.7,488.3 1019.6,482.2 1030.5,476.2 1041.6,470.4 1052.6,464.7 1063.8,459.1 1074.9,453.6 1086.2,448.2 1097.5,443.0 1108.8,437.9 1109.8,440.1 1098.5,445.2 1087.2,450.4 1076.0,455.8 1064.8,461.3 1053.6,466.9 1042.6,472.6 1031.6,478.4 1020.6,484.4 1009.7,490.5 998.9,496.7 988.1,503.0 977.3,509.5 966.7,516.0 956.0,522.7 945.5,529.5 935.0,536.5 924.5,543.6 914.1,550.7" fill="#fff" stroke="#222" stroke-width="0.8" stroke-linejoin="round" />
<polygon points="896.2,552.8 906.6,545.7 917.1,538.6 927.6,531.6 938.2,524.8 948.8,518.1 959.5,511.6 970.2,505.1 981.0,498.8 991.8,492.6 1002.7,486.5 1013.7,480.5 1024.7,474.7 1035.8,469.0 1046.9,463.4 1058.1,457.9 1069.3,452.5 1080.6,447.3 1092.0,442.2 1108.8,437.9 1097.5,443.0 1086.2,448.2 1074.9,453.6 1063.8,459.1 1052.6,464.7 1041.6,470.4 1030.5,476.2 1019.6,482.2 1008.7,488.3 997.8,494.5 987.1,500.8 976.3,507.2 965.6,513.8 955.0,520.5 944.5,527.3 934.0,534.3 923.5,541.4 913.1,548.5" fill="#fff" stroke="#1e1e1e" stroke-width="1.05" stroke-linejoin="round" />
<polygon points="357.3,751.2 365.1,746.8 367.1,751.2 359.3,755.6" fill="#fff" stroke="#1e1e1e" stroke-width="0.8" stroke-linejoin="round" />
<polygon points="344.7,754.4 357.3,751.2 359.3,755.6 346.7,758.8" fill="#fff" stroke="#1e1e1e" stroke-width="0.8" stroke-linejoin="round" />
<polygon points="344.7,754.4 357.3,751.2 365.1,746.8 352.5,750.0" fill="#fff" stroke="#1e1e1e" stroke-width="0.8" stroke-linejoin="round" />
<polygon points="549.6,642.5 557.4,638.1 559.4,642.5 551.6,646.9" fill="#fff" stroke="#1e1e1e" stroke-width="0.8" stroke-linejoin="round" />
<polygon points="536.9,645.8 549.6,642.5 551.6,646.9 538.9,650.2" fill="#fff" stroke="#1e1e1e" stroke-width="0.8" stroke-linejoin="round" />
<polygon points="536.9,645.8 549.6,642.5 557.4,638.1 544.7,641.4" fill="#fff" stroke="#1e1e1e" stroke-width="0.8" stroke-linejoin="round" />
<polygon points="745.3,531.9 753.1,527.5 755.1,531.9 747.3,536.3" fill="#fff" stroke="#1e1e1e" stroke-width="0.8" stroke-linejoin="round" />
<polygon points="732.6,535.1 745.3,531.9 747.3,536.3 734.7,539.5" fill="#fff" stroke="#1e1e1e" stroke-width="0.8" stroke-linejoin="round" />
<polygon points="732.6,535.1 745.3,531.9 753.1,527.5 740.4,530.7" fill="#fff" stroke="#1e1e1e" stroke-width="0.8" stroke-linejoin="round" />
<polygon points="384.8,744.2 392.6,739.8 394.6,744.2 386.8,748.6" fill="#fff" stroke="#1e1e1e" stroke-width="0.8" stroke-linejoin="round" />
<polygon points="372.2,747.4 384.8,744.2 386.8,748.6 374.2,751.8" fill="#fff" stroke="#1e1e1e" stroke-width="0.8" stroke-linejoin="round" />
<polygon points="372.2,747.4 384.8,744.2 392.6,739.8 380.0,743.0" fill="#fff" stroke="#1e1e1e" stroke-width="0.8" stroke-linejoin="round" />
<polygon points="577.1,635.5 584.9,631.1 586.9,635.5 579.1,639.9" fill="#fff" stroke="#1e1e1e" stroke-width="0.8" stroke-linejoin="round" />
<polygon points="564.4,638.7 577.1,635.5 579.1,639.9 566.5,643.2" fill="#fff" stroke="#1e1e1e" stroke-width="0.8" stroke-linejoin="round" />
<polygon points="564.4,638.7 577.1,635.5 584.9,631.1 572.2,634.3" fill="#fff" stroke="#1e1e1e" stroke-width="0.8" stroke-linejoin="round" />
<polygon points="772.8,524.9 780.6,520.5 782.6,524.9 774.8,529.3" fill="#fff" stroke="#1e1e1e" stroke-width="0.8" stroke-linejoin="round" />
<polygon points="760.1,528.1 772.8,524.9 774.8,529.3 762.2,532.5" fill="#fff" stroke="#1e1e1e" stroke-width="0.8" stroke-linejoin="round" />
<polygon points="760.1,528.1 772.8,524.9 780.6,520.5 767.9,523.7" fill="#fff" stroke="#1e1e1e" stroke-width="0.8" stroke-linejoin="round" />
<polygon points="412.3,737.2 420.1,732.8 422.1,737.2 414.3,741.6" fill="#fff" stroke="#1e1e1e" stroke-width="0.8" stroke-linejoin="round" />
<polygon points="399.7,740.4 412.3,737.2 414.3,741.6 401.7,744.8" fill="#fff" stroke="#1e1e1e" stroke-width="0.8" stroke-linejoin="round" />
<polygon points="399.7,740.4 412.3,737.2 420.1,732.8 407.5,736.0" fill="#fff" stroke="#1e1e1e" stroke-width="0.8" stroke-linejoin="round" />
<polygon points="604.6,628.5 612.4,624.1 614.4,628.5 606.6,632.9" fill="#fff" stroke="#1e1e1e" stroke-width="0.8" stroke-linejoin="round" />
<polygon points="591.9,631.7 604.6,628.5 606.6,632.9 594.0,636.1" fill="#fff" stroke="#1e1e1e" stroke-width="0.8" stroke-linejoin="round" />
<polygon points="591.9,631.7 604.6,628.5 612.4,624.1 599.7,627.3" fill="#fff" stroke="#1e1e1e" stroke-width="0.8" stroke-linejoin="round" />
<polygon points="800.3,517.9 808.1,513.5 810.1,517.9 802.3,522.3" fill="#fff" stroke="#1e1e1e" stroke-width="0.8" stroke-linejoin="round" />
<polygon points="787.6,521.1 800.3,517.9 802.3,522.3 789.7,525.5" fill="#fff" stroke="#1e1e1e" stroke-width="0.8" stroke-linejoin="round" />
<polygon points="787.6,521.1 800.3,517.9 808.1,513.5 795.4,516.7" fill="#fff" stroke="#1e1e1e" stroke-width="0.8" stroke-linejoin="round" />
<polygon points="439.8,730.1 447.6,725.7 449.6,730.2 441.9,734.6" fill="#fff" stroke="#1e1e1e" stroke-width="0.8" stroke-linejoin="round" />
<polygon points="427.2,733.4 439.8,730.1 441.9,734.6 429.2,737.8" fill="#fff" stroke="#1e1e1e" stroke-width="0.8" stroke-linejoin="round" />
<polygon points="427.2,733.4 439.8,730.1 447.6,725.7 435.0,729.0" fill="#fff" stroke="#1e1e1e" stroke-width="0.8" stroke-linejoin="round" />
<polygon points="632.1,621.5 639.9,617.1 641.9,621.5 634.1,625.9" fill="#fff" stroke="#1e1e1e" stroke-width="0.8" stroke-linejoin="round" />
<polygon points="619.4,624.7 632.1,621.5 634.1,625.9 621.5,629.1" fill="#fff" stroke="#1e1e1e" stroke-width="0.8" stroke-linejoin="round" />
<polygon points="619.4,624.7 632.1,621.5 639.9,617.1 627.2,620.3" fill="#fff" stroke="#1e1e1e" stroke-width="0.8" stroke-linejoin="round" />
<polygon points="827.8,510.8 835.6,506.4 837.6,510.9 829.8,515.3" fill="#fff" stroke="#1e1e1e" stroke-width="0.8" stroke-linejoin="round" />
<polygon points="815.1,514.1 827.8,510.8 829.8,515.3 817.2,518.5" fill="#fff" stroke="#1e1e1e" stroke-width="0.8" stroke-linejoin="round" />
<polygon points="815.1,514.1 827.8,510.8 835.6,506.4 822.9,509.7" fill="#fff" stroke="#1e1e1e" stroke-width="0.8" stroke-linejoin="round" />
<polygon points="467.3,723.1 475.1,718.7 477.1,723.1 469.4,727.5" fill="#fff" stroke="#1e1e1e" stroke-width="0.8" stroke-linejoin="round" />
<polygon points="454.7,726.4 467.3,723.1 469.4,727.5 456.7,730.8" fill="#fff" stroke="#1e1e1e" stroke-width="0.8" stroke-linejoin="round" />
<polygon points="454.7,726.4 467.3,723.1 475.1,718.7 462.5,721.9" fill="#fff" stroke="#1e1e1e" stroke-width="0.8" stroke-linejoin="round" />
<polygon points="659.6,614.5 667.4,610.1 669.4,614.5 661.6,618.9" fill="#fff" stroke="#1e1e1e" stroke-width="0.8" stroke-linejoin="round" />
<polygon points="646.9,617.7 659.6,614.5 661.6,618.9 649.0,622.1" fill="#fff" stroke="#1e1e1e" stroke-width="0.8" stroke-linejoin="round" />
<polygon points="646.9,617.7 659.6,614.5 667.4,610.1 654.7,613.3" fill="#fff" stroke="#1e1e1e" stroke-width="0.8" stroke-linejoin="round" />
<polygon points="855.3,503.8 863.1,499.4 865.1,503.8 857.3,508.2" fill="#fff" stroke="#1e1e1e" stroke-width="0.8" stroke-linejoin="round" />
<polygon points="842.6,507.1 855.3,503.8 857.3,508.2 844.7,511.5" fill="#fff" stroke="#1e1e1e" stroke-width="0.8" stroke-linejoin="round" />
<polygon points="842.6,507.1 855.3,503.8 863.1,499.4 850.4,502.7" fill="#fff" stroke="#1e1e1e" stroke-width="0.8" stroke-linejoin="round" />
<polygon points="494.8,716.1 502.6,711.7 504.6,716.1 496.9,720.5" fill="#fff" stroke="#1e1e1e" stroke-width="0.8" stroke-linejoin="round" />
<polygon points="482.2,719.3 494.8,716.1 496.9,720.5 484.2,723.7" fill="#fff" stroke="#1e1e1e" stroke-width="0.8" stroke-linejoin="round" />
<polygon points="482.2,719.3 494.8,716.1 502.6,711.7 490.0,714.9" fill="#fff" stroke="#1e1e1e" stroke-width="0.8" stroke-linejoin="round" />
<polygon points="687.1,607.4 694.9,603.0 696.9,607.4 689.1,611.9" fill="#fff" stroke="#1e1e1e" stroke-width="0.8" stroke-linejoin="round" />
<polygon points="674.4,610.7 687.1,607.4 689.1,611.9 676.5,615.1" fill="#fff" stroke="#1e1e1e" stroke-width="0.8" stroke-linejoin="round" />
<polygon points="674.4,610.7 687.1,607.4 694.9,603.0 682.2,606.3" fill="#fff" stroke="#1e1e1e" stroke-width="0.8" stroke-linejoin="round" />
<polygon points="882.8,496.8 890.6,492.4 892.6,496.8 884.8,501.2" fill="#fff" stroke="#1e1e1e" stroke-width="0.8" stroke-linejoin="round" />
<polygon points="870.2,500.0 882.8,496.8 884.8,501.2 872.2,504.5" fill="#fff" stroke="#1e1e1e" stroke-width="0.8" stroke-linejoin="round" />
<polygon points="870.2,500.0 882.8,496.8 890.6,492.4 877.9,495.6" fill="#fff" stroke="#1e1e1e" stroke-width="0.8" stroke-linejoin="round" />
<polygon points="522.3,709.1 530.1,704.7 532.2,709.1 524.4,713.5" fill="#fff" stroke="#1e1e1e" stroke-width="0.8" stroke-linejoin="round" />
<polygon points="509.7,712.3 522.3,709.1 524.4,713.5 511.7,716.7" fill="#fff" stroke="#1e1e1e" stroke-width="0.8" stroke-linejoin="round" />
<polygon points="509.7,712.3 522.3,709.1 530.1,704.7 517.5,707.9" fill="#fff" stroke="#1e1e1e" stroke-width="0.8" stroke-linejoin="round" />
<polygon points="714.6,600.4 722.4,596.0 724.4,600.4 716.6,604.8" fill="#fff" stroke="#1e1e1e" stroke-width="0.8" stroke-linejoin="round" />
<polygon points="701.9,603.6 714.6,600.4 716.6,604.8 704.0,608.1" fill="#fff" stroke="#1e1e1e" stroke-width="0.8" stroke-linejoin="round" />
<polygon points="701.9,603.6 714.6,600.4 722.4,596.0 709.7,599.2" fill="#fff" stroke="#1e1e1e" stroke-width="0.8" stroke-linejoin="round" />
<polygon points="910.3,489.8 918.1,485.4 920.1,489.8 912.3,494.2" fill="#fff" stroke="#1e1e1e" stroke-width="0.8" stroke-linejoin="round" />
<polygon points="897.7,493.0 910.3,489.8 912.3,494.2 899.7,497.4" fill="#fff" stroke="#1e1e1e" stroke-width="0.8" stroke-linejoin="round" />
<polygon points="897.7,493.0 910.3,489.8 918.1,485.4 905.4,488.6" fill="#fff" stroke="#1e1e1e" stroke-width="0.8" stroke-linejoin="round" />
<polygon points="549.8,702.1 557.6,697.7 559.7,702.1 551.9,706.5" fill="#fff" stroke="#1e1e1e" stroke-width="0.8" stroke-linejoin="round" />
<polygon points="537.2,705.3 549.8,702.1 551.9,706.5 539.2,709.7" fill="#fff" stroke="#1e1e1e" stroke-width="0.8" stroke-linejoin="round" />
<polygon points="537.2,705.3 549.8,702.1 557.6,697.7 545.0,700.9" fill="#fff" stroke="#1e1e1e" stroke-width="0.8" stroke-linejoin="round" />
<polygon points="742.1,593.4 749.9,589.0 751.9,593.4 744.1,597.8" fill="#fff" stroke="#1e1e1e" stroke-width="0.8" stroke-linejoin="round" />
<polygon points="729.4,596.6 742.1,593.4 744.1,597.8 731.5,601.0" fill="#fff" stroke="#1e1e1e" stroke-width="0.8" stroke-linejoin="round" />
<polygon points="729.4,596.6 742.1,593.4 749.9,589.0 737.2,592.2" fill="#fff" stroke="#1e1e1e" stroke-width="0.8" stroke-linejoin="round" />
<polygon points="937.8,482.8 945.6,478.4 947.6,482.8 939.8,487.2" fill="#fff" stroke="#1e1e1e" stroke-width="0.8" stroke-linejoin="round" />
<polygon points="925.2,486.0 937.8,482.8 939.8,487.2 927.2,490.4" fill="#fff" stroke="#1e1e1e" stroke-width="0.8" stroke-linejoin="round" />
<polygon points="925.2,486.0 937.8,482.8 945.6,478.4 933.0,481.6" fill="#fff" stroke="#1e1e1e" stroke-width="0.8" stroke-linejoin="round" />
<polygon points="577.3,695.0 585.1,690.6 587.2,695.1 579.4,699.5" fill="#fff" stroke="#1e1e1e" stroke-width="0.8" stroke-linejoin="round" />
<polygon points="564.7,698.3 577.3,695.0 579.4,699.5 566.7,702.7" fill="#fff" stroke="#1e1e1e" stroke-width="0.8" stroke-linejoin="round" />
<polygon points="564.7,698.3 577.3,695.0 585.1,690.6 572.5,693.9" fill="#fff" stroke="#1e1e1e" stroke-width="0.8" stroke-linejoin="round" />
<polygon points="769.6,586.4 777.4,582.0 779.4,586.4 771.6,590.8" fill="#fff" stroke="#1e1e1e" stroke-width="0.8" stroke-linejoin="round" />
<polygon points="756.9,589.6 769.6,586.4 771.6,590.8 759.0,594.0" fill="#fff" stroke="#1e1e1e" stroke-width="0.8" stroke-linejoin="round" />
<polygon points="756.9,589.6 769.6,586.4 777.4,582.0 764.7,585.2" fill="#fff" stroke="#1e1e1e" stroke-width="0.8" stroke-linejoin="round" />
<polygon points="965.3,475.8 973.1,471.3 975.1,475.8 967.3,480.2" fill="#fff" stroke="#1e1e1e" stroke-width="0.8" stroke-linejoin="round" />
<polygon points="952.7,479.0 965.3,475.8 967.3,480.2 954.7,483.4" fill="#fff" stroke="#1e1e1e" stroke-width="0.8" stroke-linejoin="round" />
<polygon points="952.7,479.0 965.3,475.8 973.1,471.3 960.5,474.6" fill="#fff" stroke="#1e1e1e" stroke-width="0.8" stroke-linejoin="round" />
<polygon points="604.8,688.0 612.6,683.6 614.7,688.0 606.9,692.4" fill="#fff" stroke="#1e1e1e" stroke-width="0.8" stroke-linejoin="round" />
<polygon points="592.2,691.3 604.8,688.0 606.9,692.4 594.2,695.7" fill="#fff" stroke="#1e1e1e" stroke-width="0.8" stroke-linejoin="round" />
<polygon points="592.2,691.3 604.8,688.0 612.6,683.6 600.0,686.8" fill="#fff" stroke="#1e1e1e" stroke-width="0.8" stroke-linejoin="round" />
<polygon points="797.1,579.4 804.9,575.0 806.9,579.4 799.1,583.8" fill="#fff" stroke="#1e1e1e" stroke-width="0.8" stroke-linejoin="round" />
<polygon points="784.4,582.6 797.1,579.4 799.1,583.8 786.5,587.0" fill="#fff" stroke="#1e1e1e" stroke-width="0.8" stroke-linejoin="round" />
<polygon points="784.4,582.6 797.1,579.4 804.9,575.0 792.2,578.2" fill="#fff" stroke="#1e1e1e" stroke-width="0.8" stroke-linejoin="round" />
<polygon points="992.8,468.7 1000.6,464.3 1002.6,468.7 994.8,473.1" fill="#fff" stroke="#1e1e1e" stroke-width="0.8" stroke-linejoin="round" />
<polygon points="980.2,472.0 992.8,468.7 994.8,473.1 982.2,476.4" fill="#fff" stroke="#1e1e1e" stroke-width="0.8" stroke-linejoin="round" />
<polygon points="980.2,472.0 992.8,468.7 1000.6,464.3 988.0,467.6" fill="#fff" stroke="#1e1e1e" stroke-width="0.8" stroke-linejoin="round" />
<polygon points="632.3,681.0 640.1,676.6 642.2,681.0 634.4,685.4" fill="#fff" stroke="#1e1e1e" stroke-width="0.8" stroke-linejoin="round" />
<polygon points="619.7,684.2 632.3,681.0 634.4,685.4 621.7,688.6" fill="#fff" stroke="#1e1e1e" stroke-width="0.8" stroke-linejoin="round" />
<polygon points="619.7,684.2 632.3,681.0 640.1,676.6 627.5,679.8" fill="#fff" stroke="#1e1e1e" stroke-width="0.8" stroke-linejoin="round" />
<polygon points="824.6,572.3 832.4,567.9 834.4,572.3 826.6,576.8" fill="#fff" stroke="#1e1e1e" stroke-width="0.8" stroke-linejoin="round" />
<polygon points="812.0,575.6 824.6,572.3 826.6,576.8 814.0,580.0" fill="#fff" stroke="#1e1e1e" stroke-width="0.8" stroke-linejoin="round" />
<polygon points="812.0,575.6 824.6,572.3 832.4,567.9 819.7,571.2" fill="#fff" stroke="#1e1e1e" stroke-width="0.8" stroke-linejoin="round" />
<polygon points="1020.3,461.7 1028.1,457.3 1030.1,461.7 1022.3,466.1" fill="#fff" stroke="#1e1e1e" stroke-width="0.8" stroke-linejoin="round" />
<polygon points="1007.7,464.9 1020.3,461.7 1022.3,466.1 1009.7,469.4" fill="#fff" stroke="#1e1e1e" stroke-width="0.8" stroke-linejoin="round" />
<polygon points="1007.7,464.9 1020.3,461.7 1028.1,457.3 1015.5,460.5" fill="#fff" stroke="#1e1e1e" stroke-width="0.8" stroke-linejoin="round" />
<polygon points="659.8,674.0 667.6,669.6 669.7,674.0 661.9,678.4" fill="#fff" stroke="#1e1e1e" stroke-width="0.8" stroke-linejoin="round" />
<polygon points="647.2,677.2 659.8,674.0 661.9,678.4 649.2,681.6" fill="#fff" stroke="#1e1e1e" stroke-width="0.8" stroke-linejoin="round" />
<polygon points="647.2,677.2 659.8,674.0 667.6,669.6 655.0,672.8" fill="#fff" stroke="#1e1e1e" stroke-width="0.8" stroke-linejoin="round" />
<polygon points="852.1,565.3 859.9,560.9 861.9,565.3 854.1,569.7" fill="#fff" stroke="#1e1e1e" stroke-width="0.8" stroke-linejoin="round" />
<polygon points="839.5,568.5 852.1,565.3 854.1,569.7 841.5,573.0" fill="#fff" stroke="#1e1e1e" stroke-width="0.8" stroke-linejoin="round" />
<polygon points="839.5,568.5 852.1,565.3 859.9,560.9 847.2,564.1" fill="#fff" stroke="#1e1e1e" stroke-width="0.8" stroke-linejoin="round" />
<polygon points="1047.8,454.7 1055.6,450.3 1057.6,454.7 1049.8,459.1" fill="#fff" stroke="#1e1e1e" stroke-width="0.8" stroke-linejoin="round" />
<polygon points="1035.2,457.9 1047.8,454.7 1049.8,459.1 1037.2,462.3" fill="#fff" stroke="#1e1e1e" stroke-width="0.8" stroke-linejoin="round" />
<polygon points="1035.2,457.9 1047.8,454.7 1055.6,450.3 1043.0,453.5" fill="#fff" stroke="#1e1e1e" stroke-width="0.8" stroke-linejoin="round" />
<polygon points="687.3,667.0 695.1,662.6 697.2,667.0 689.4,671.4" fill="#fff" stroke="#1e1e1e" stroke-width="0.8" stroke-linejoin="round" />
<polygon points="674.7,670.2 687.3,667.0 689.4,671.4 676.7,674.6" fill="#fff" stroke="#1e1e1e" stroke-width="0.8" stroke-linejoin="round" />
<polygon points="674.7,670.2 687.3,667.0 695.1,662.6 682.5,665.8" fill="#fff" stroke="#1e1e1e" stroke-width="0.8" stroke-linejoin="round" />
<polygon points="879.6,558.3 887.4,553.9 889.4,558.3 881.6,562.7" fill="#fff" stroke="#1e1e1e" stroke-width="0.8" stroke-linejoin="round" />
<polygon points="867.0,561.5 879.6,558.3 881.6,562.7 869.0,565.9" fill="#fff" stroke="#1e1e1e" stroke-width="0.8" stroke-linejoin="round" />
<polygon points="867.0,561.5 879.6,558.3 887.4,553.9 874.8,557.1" fill="#fff" stroke="#1e1e1e" stroke-width="0.8" stroke-linejoin="round" />
<polygon points="1075.3,447.7 1083.1,443.3 1085.1,447.7 1077.3,452.1" fill="#fff" stroke="#1e1e1e" stroke-width="0.8" stroke-linejoin="round" />
<polygon points="1062.7,450.9 1075.3,447.7 1077.3,452.1 1064.7,455.3" fill="#fff" stroke="#1e1e1e" stroke-width="0.8" stroke-linejoin="round" />
<polygon points="1062.7,450.9 1075.3,447.7 1083.1,443.3 1070.5,446.5" fill="#fff" stroke="#1e1e1e" stroke-width="0.8" stroke-linejoin="round" />
<polygon points="714.9,659.9 722.6,655.5 724.7,660.0 716.9,664.4" fill="#fff" stroke="#1e1e1e" stroke-width="0.8" stroke-linejoin="round" />
<polygon points="702.2,663.2 714.9,659.9 716.9,664.4 704.2,667.6" fill="#fff" stroke="#1e1e1e" stroke-width="0.8" stroke-linejoin="round" />
<polygon points="702.2,663.2 714.9,659.9 722.6,655.5 710.0,658.8" fill="#fff" stroke="#1e1e1e" stroke-width="0.8" stroke-linejoin="round" />
<polygon points="907.1,551.3 914.9,546.9 916.9,551.3 909.1,555.7" fill="#fff" stroke="#1e1e1e" stroke-width="0.8" stroke-linejoin="round" />
<polygon points="894.5,554.5 907.1,551.3 909.1,555.7 896.5,558.9" fill="#fff" stroke="#1e1e1e" stroke-width="0.8" stroke-linejoin="round" />
<polygon points="894.5,554.5 907.1,551.3 914.9,546.9 902.3,550.1" fill="#fff" stroke="#1e1e1e" stroke-width="0.8" stroke-linejoin="round" />
<polygon points="1102.8,440.7 1110.6,436.2 1112.6,440.7 1104.8,445.1" fill="#fff" stroke="#1e1e1e" stroke-width="0.8" stroke-linejoin="round" />
<polygon points="1090.2,443.9 1102.8,440.7 1104.8,445.1 1092.2,448.3" fill="#fff" stroke="#1e1e1e" stroke-width="0.8" stroke-linejoin="round" />
<polygon points="1090.2,443.9 1102.8,440.7 1110.6,436.2 1098.0,439.5" fill="#fff" stroke="#1e1e1e" stroke-width="0.8" stroke-linejoin="round" />
<circle cx="451.6" cy="690.4" r="0.9" fill="#1e1e1e"/>
<circle cx="642.1" cy="582.7" r="0.9" fill="#1e1e1e"/>
<circle cx="479.1" cy="683.4" r="0.9" fill="#1e1e1e"/>
<circle cx="669.6" cy="575.7" r="0.9" fill="#1e1e1e"/>
<circle cx="506.6" cy="676.4" r="0.9" fill="#1e1e1e"/>
<circle cx="697.1" cy="568.7" r="0.9" fill="#1e1e1e"/>
<circle cx="534.1" cy="669.3" r="0.9" fill="#1e1e1e"/>
<circle cx="724.6" cy="561.6" r="0.9" fill="#1e1e1e"/>
<circle cx="561.6" cy="662.3" r="0.9" fill="#1e1e1e"/>
<circle cx="752.1" cy="554.6" r="0.9" fill="#1e1e1e"/>
<circle cx="589.1" cy="655.3" r="0.9" fill="#1e1e1e"/>
<circle cx="779.6" cy="547.6" r="0.9" fill="#1e1e1e"/>
<circle cx="616.6" cy="648.3" r="0.9" fill="#1e1e1e"/>
<circle cx="807.1" cy="540.6" r="0.9" fill="#1e1e1e"/>
<circle cx="644.1" cy="641.3" r="0.9" fill="#1e1e1e"/>
<circle cx="834.6" cy="533.6" r="0.9" fill="#1e1e1e"/>
<circle cx="671.6" cy="634.2" r="0.9" fill="#1e1e1e"/>
<circle cx="862.1" cy="526.6" r="0.9" fill="#1e1e1e"/>
<circle cx="699.1" cy="627.2" r="0.9" fill="#1e1e1e"/>
<circle cx="889.6" cy="519.5" r="0.9" fill="#1e1e1e"/>
<circle cx="726.6" cy="620.2" r="0.9" fill="#1e1e1e"/>
<circle cx="917.1" cy="512.5" r="0.9" fill="#1e1e1e"/>
<circle cx="754.1" cy="613.2" r="0.9" fill="#1e1e1e"/>
<circle cx="944.6" cy="505.5" r="0.9" fill="#1e1e1e"/>
<circle cx="781.6" cy="606.2" r="0.9" fill="#1e1e1e"/>
<circle cx="972.1" cy="498.5" r="0.9" fill="#1e1e1e"/>
<circle cx="809.1" cy="599.1" r="0.9" fill="#1e1e1e"/>
<circle cx="999.6" cy="491.5" r="0.9" fill="#1e1e1e"/>
<circle cx="601.5" cy="700.4" r="1.2" fill="#1e1e1e"/>
<circle cx="615.6" cy="696.8" r="1.2" fill="#1e1e1e"/>
<polygon points="367.0,768.0 467.5,742.5 472.0,753.5 381.0,777.0" fill="#fff" stroke="#1e1e1e" stroke-width="0.9" stroke-linejoin="round" />
<circle cx="422.5" cy="761.0" r="1.7" fill="#fff" stroke="#1e1e1e" stroke-width="0.9"/>
<circle cx="450.5" cy="753.5" r="1.7" fill="#fff" stroke="#1e1e1e" stroke-width="0.9"/>
<line x1="425.0" y1="765.0" x2="457.0" y2="823.0" stroke="#1e1e1e" stroke-width="0.9" />
<line x1="430.0" y1="765.0" x2="466.0" y2="826.0" stroke="#1e1e1e" stroke-width="1.8" />
<polygon points="455.0,758.0 463.0,757.0 480.0,809.0 473.0,810.0" fill="#fff" stroke="#1e1e1e" stroke-width="0.9" stroke-linejoin="round" />
<line x1="473.0" y1="809.0" x2="480.0" y2="807.5" stroke="#1e1e1e" stroke-width="1.8" />
<polygon points="474.5,810.0 479.0,809.0 486.5,837.0 482.0,838.0" fill="#fff" stroke="#1e1e1e" stroke-width="0.9" stroke-linejoin="round" />
<polygon points="277.8,731.9 778.3,1020.9 778.3,1092.1 277.8,803.1" fill="#fff" stroke="#1e1e1e" stroke-width="1.0" stroke-linejoin="round" />
<polygon points="277.8,731.9 778.3,1020.9 789.6,1014.4 289.1,725.4" fill="#fff" stroke="none" stroke-linejoin="round" />
<line x1="277.8" y1="731.9" x2="778.3" y2="1020.9" stroke="#1e1e1e" stroke-width="1.0" />
<line x1="277.8" y1="731.9" x2="289.1" y2="725.4" stroke="#1e1e1e" stroke-width="1.0" />
<line x1="289.1" y1="725.4" x2="563.6" y2="883.9" stroke="#1e1e1e" stroke-width="1.0" />
<polygon points="778.3,1092.9 778.3,996.4 778.5,992.7 779.0,988.9 779.9,984.9 781.1,980.9 782.6,976.9 784.4,973.0 786.5,969.1 788.8,965.4 791.3,961.8 794.0,958.5 796.9,955.5 799.9,952.8 803.0,950.4 806.1,948.4 1173.8,736.1 1176.9,734.5 1179.9,733.3 1182.9,732.6 1185.8,732.3 1188.5,732.5 1191.0,733.1 1193.4,734.2 1195.4,735.6 1197.2,737.5 1198.7,739.8 1199.9,742.4 1200.8,745.4 1201.3,748.6 1201.5,752.1 1201.5,848.6 1213.6,855.6 790.5,1099.9" fill="#fff" stroke="#1e1e1e" stroke-width="0.9" stroke-linejoin="round" />
<polygon points="790.5,1099.9 790.5,1003.4 790.6,999.7 791.2,995.9 792.0,991.9 793.2,987.9 794.7,983.9 796.5,980.0 798.6,976.1 800.9,972.4 803.4,968.8 806.2,965.5 809.0,962.5 812.0,959.8 815.1,957.4 818.2,955.4 1185.9,743.1 1189.0,741.5 1192.1,740.3 1195.0,739.6 1197.9,739.3 1200.6,739.5 1203.2,740.1 1205.5,741.2 1207.6,742.6 1209.4,744.5 1210.9,746.8 1212.0,749.4 1212.9,752.4 1213.4,755.6 1213.6,759.1 1213.6,855.6" fill="#fff" stroke="#1e1e1e" stroke-width="1.0" stroke-linejoin="round" />
<polygon points="302.2,817.0 302.2,839.7 313.4,839.7 316.3,825.0" fill="#fff" stroke="none" stroke-linejoin="round" />
<polyline points="302.2,817.0 302.2,839.7 313.4,839.7 316.3,825.0" fill="none" stroke="#1e1e1e" stroke-width="1.0" stroke-linejoin="round" />
<polygon points="784.4,1096.0 784.4,1116.8 794.5,1116.8 794.5,1097.5" fill="#fff" stroke="none" stroke-linejoin="round" />
<polyline points="784.4,1096.0 784.4,1116.8 794.5,1116.8 794.5,1097.5" fill="none" stroke="#1e1e1e" stroke-width="1.0" stroke-linejoin="round" />
<polygon points="1162.0,884.0 1165.0,897.6 1175.0,897.6 1175.0,878.0" fill="#fff" stroke="none" stroke-linejoin="round" />
<polyline points="1162.0,884.0 1165.0,897.6 1175.0,897.6 1175.0,878.0" fill="none" stroke="#1e1e1e" stroke-width="1.0" stroke-linejoin="round" />
<line x1="277.8" y1="803.1" x2="778.3" y2="1092.1" stroke="#1e1e1e" stroke-width="1.0" />
<line x1="790.5" y1="1099.9" x2="1213.6" y2="855.6" stroke="#1e1e1e" stroke-width="1.0" />
<polyline points="768.7,540.5 1003.8,323.2 1405.0,323.2" fill="none" stroke="#1e1e1e" stroke-width="1.2" stroke-linejoin="round" />
<polyline points="843.8,651.3 1057.6,572.3 1393.0,572.3" fill="none" stroke="#333" stroke-width="0.9" stroke-linejoin="round" />
<polyline points="767.9,925.8 1040.2,1066.5 1404.0,1066.5" fill="none" stroke="#1e1e1e" stroke-width="1.2" stroke-linejoin="round" />
<g font-family="Liberation Sans, sans-serif">
<text x="59.0" y="121.9" font-size="45" fill="#3b2e88" stroke="#fff" stroke-width="0.55" textLength="153.0" lengthAdjust="spacingAndGlyphs">Состав</text>
<text x="219.0" y="121.9" font-size="45" fill="#3b2e88" stroke="#fff" stroke-width="0.55" textLength="250.0" lengthAdjust="spacingAndGlyphs">кроватного</text>
<text x="478.0" y="121.9" font-size="45" fill="#3b2e88" stroke="#fff" stroke-width="0.55" textLength="228.0" lengthAdjust="spacingAndGlyphs">основания</text>
<text x="713.0" y="121.9" font-size="45" fill="#3b2e88" stroke="#fff" stroke-width="0.55" textLength="22.0" lengthAdjust="spacingAndGlyphs">с</text>
<text x="746.0" y="121.9" font-size="45" fill="#3b2e88" stroke="#fff" stroke-width="0.55" textLength="257.4" lengthAdjust="spacingAndGlyphs">подъемным</text>
<text x="1009.6" y="121.9" font-size="45" fill="#3b2e88" stroke="#fff" stroke-width="0.55" textLength="250.6" lengthAdjust="spacingAndGlyphs">мехнизмом</text>
<text x="58.4" y="171.5" font-size="45" fill="#3b2e88" stroke="#fff" stroke-width="0.55" textLength="79.6" lengthAdjust="spacingAndGlyphs">для</text>
<text x="146.0" y="171.5" font-size="45" fill="#3b2e88" stroke="#fff" stroke-width="0.55" textLength="199.4" lengthAdjust="spacingAndGlyphs">кроватей</text>
<text x="352.0" y="171.5" font-size="45" fill="#ec1c24" stroke="#fff" stroke-width="0.55" textLength="190.0" lengthAdjust="spacingAndGlyphs">Мелоди,</text>
<text x="546.2" y="171.5" font-size="45" fill="#ec1c24" stroke="#fff" stroke-width="0.55" textLength="159.8" lengthAdjust="spacingAndGlyphs">Сиерра</text>
<text x="715.0" y="171.5" font-size="45" fill="#3b2e88" stroke="#fff" stroke-width="0.55" textLength="28.0" lengthAdjust="spacingAndGlyphs">и</text>
<text x="750.0" y="171.5" font-size="45" fill="#ec1c24" stroke="#fff" stroke-width="0.55" textLength="181.0" lengthAdjust="spacingAndGlyphs">Севилья</text>
<text x="1127.6" y="269" font-size="30" fill="#231f20" stroke="#fff" stroke-width="0.4" textLength="278.4" lengthAdjust="spacingAndGlyphs">ОРТОПЕДИЧЕСКОЕ</text>
<text x="1220.8" y="301.9" font-size="30" fill="#231f20" stroke="#fff" stroke-width="0.4" textLength="185.2" lengthAdjust="spacingAndGlyphs">ОСНОВАНИЕ</text>
<text x="1192.4" y="517.1" font-size="30" fill="#231f20" stroke="#fff" stroke-width="0.4" textLength="202.0" lengthAdjust="spacingAndGlyphs">ПОДЪЕМНЫЙ</text>
<text x="1223.4" y="549.9" font-size="30" fill="#231f20" stroke="#fff" stroke-width="0.4" textLength="171.0" lengthAdjust="spacingAndGlyphs">МЕХАНИЗМ</text>
<text x="1044.4" y="1016.6" font-size="30" fill="#231f20" stroke="#fff" stroke-width="0.4" textLength="358.6" lengthAdjust="spacingAndGlyphs">ДНО БЕЛЬЕВОГО ЯЩИКА</text>
<text transform="translate(1188.7,1056) scale(1.078,1)" font-size="37" fill="#231f20" stroke="#fff" stroke-width="0.7" paint-order="normal">(</text>
<text transform="translate(1204.9,1056) scale(0.985,1)" font-size="37" fill="#231f20" stroke="#fff" stroke-width="0.7" paint-order="normal">щ</text>
<text transform="translate(1236.5,1056) scale(1.220,1)" font-size="37" fill="#231f20" stroke="#fff" stroke-width="0.7" paint-order="normal">и</text>
<text transform="translate(1261.7,1056) scale(1.129,1)" font-size="37" fill="#231f20" stroke="#fff" stroke-width="0.7" paint-order="normal">т</text>
<text transform="translate(1299.3,1056) scale(1.017,1)" font-size="37" fill="#231f20" stroke="#fff" stroke-width="0.7" paint-order="normal">л</text>
<text transform="translate(1322.5,1056) scale(1.095,1)" font-size="37" fill="#231f20" stroke="#fff" stroke-width="0.7" paint-order="normal">д</text>
<text transform="translate(1345.6,1056) scale(1.220,1)" font-size="37" fill="#231f20" stroke="#fff" stroke-width="0.7" paint-order="normal">с</text>
<text transform="translate(1370.0,1056) scale(1.220,1)" font-size="37" fill="#231f20" stroke="#fff" stroke-width="0.7" paint-order="normal">п</text>
<text transform="translate(1395.0,1056) scale(1.220,1)" font-size="37" fill="#231f20" stroke="#fff" stroke-width="0.7" paint-order="normal">)</text>
</g>
</svg>
</body></html>
